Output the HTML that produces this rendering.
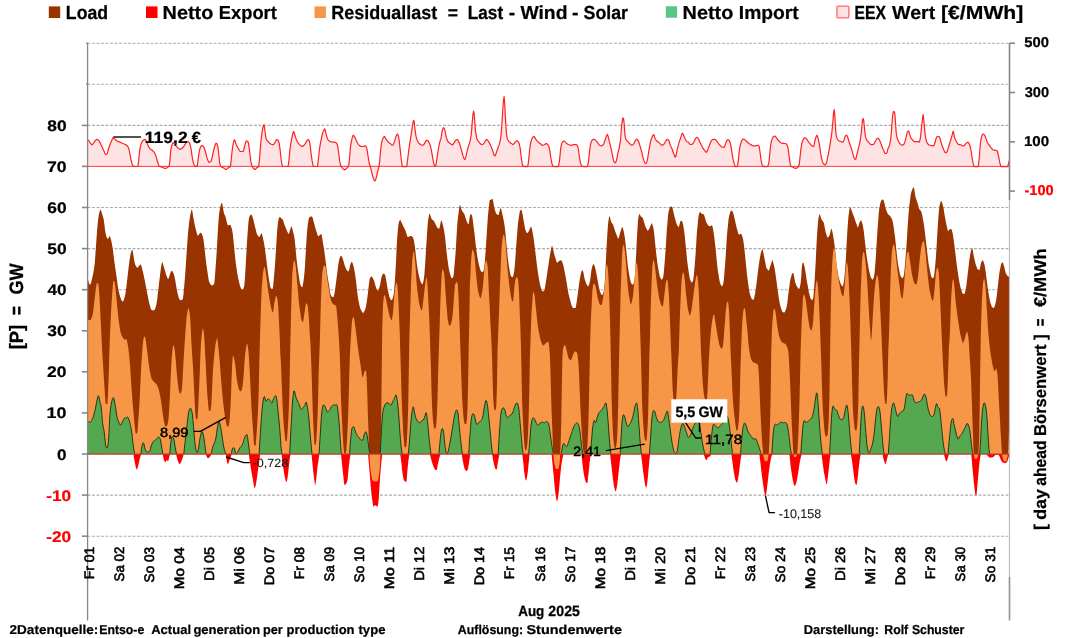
<!DOCTYPE html>
<html lang="de"><head><meta charset="utf-8"><title>Aug 2025 Load / Residuallast / EEX</title>
<style>html,body{margin:0;padding:0;background:#fff;overflow:hidden}svg{display:block}</style>
</head><body>
<svg width="1072" height="638" viewBox="0 0 1072 638" role="img" aria-label="Load, Residuallast, Netto Import/Export und EEX Wert, Aug 2025">
<rect width="1072" height="638" fill="#fff"/>
<g stroke="#aaaaaa" stroke-width="1.1" stroke-dasharray="2.8 1.7" fill="none" shape-rendering="auto">
<path d="M87.6 536.2H1009.5"/>
<path d="M87.6 495.1H1009.5"/>
<path d="M87.6 412.9H1009.5"/>
<path d="M87.6 371.8H1009.5"/>
<path d="M87.6 330.8H1009.5"/>
<path d="M87.6 289.7H1009.5"/>
<path d="M87.6 248.6H1009.5"/>
<path d="M87.6 207.5H1009.5"/>
<path d="M87.6 166.4H1009.5"/>
<path d="M87.6 125.4H1009.5"/>
<path d="M87.6 84.3H1009.5"/>
<path d="M87.6 43.2H1009.5"/>
</g>
<path d="M87.6 166.4L87.6 140.2L88.2 140.2L88.8 140.6L89.4 141.7L90 142.7L90.6 143.4L91.2 144.2L91.8 144.7L92.4 144.6L93 143.9L93.6 143L94.2 142.1L94.8 141.1L95.4 140.3L96 139.9L96.6 139.5L97.2 139.4L97.8 139.7L98.4 140.3L99 140.9L99.6 141.8L100.2 142.9L100.8 144.2L101.4 145.4L102 146.7L102.6 148L103.2 149.4L103.8 150.7L104.4 152.1L105 153.5L105.6 154.4L106.2 154.4L106.8 154.2L107.4 153.4L108 151.1L108.6 148.5L109.2 146.7L109.8 145L110.4 143.6L111 142.2L111.6 140.8L112.2 139.4L112.8 138.1L113.4 137.7L114 138.1L114.6 138.9L115.2 139.5L115.8 140L116.4 140.5L117 140.9L117.6 141.2L118.2 141.4L118.8 141.6L119.4 141.9L120 142.1L120.6 142.4L121.2 142.7L121.8 143L122.4 143.3L123 143.5L123.6 143.8L124.2 144L124.8 144.3L125.4 144.6L126 144.9L126.6 145.3L127.2 145.8L127.8 146.6L128.4 147.7L129 149.3L129.6 152.2L130.2 155.5L130.8 158.7L131.4 161.5L132 163.7L132.6 165.2L133.2 165.8L133.8 166.3L134.4 166.5L135 166.5L135.6 166.5L136.2 166.5L136.8 166.5L137.4 166.5L138 165.5L138.6 161.3L139.2 154.7L139.8 149.9L140.4 146.3L141 144.2L141.6 142.7L142.2 141.6L142.8 140.8L143.4 140.2L144 139.7L144.6 139.4L145.2 139.7L145.8 140.4L146.4 141.4L147 142.6L147.6 144.3L148.2 145.7L148.8 146.9L149.4 147.9L150 148.7L150.6 149.3L151.2 149.7L151.8 150.1L152.4 150.5L153 151L153.6 151.6L154.2 152.4L154.8 153.4L155.4 154.7L156 156.4L156.6 158.2L157.2 160.5L157.8 162.8L158.4 164.4L159 165.6L159.6 166.4L160.2 166.7L160.8 166.9L161.4 167L162 167.1L162.6 167.2L163.2 167.5L163.8 167.9L164.4 168.3L165 168.5L165.6 168.5L166.2 168.3L166.8 167.9L167.4 167.5L168 167.1L168.6 166.7L169.2 165.9L169.8 162.2L170.4 153.9L171 149.1L171.6 146.2L172.2 144.3L172.8 143L173.4 142.7L174 143.1L174.6 143.9L175.2 144.6L175.8 145.3L176.4 146.1L177 146.9L177.6 147.6L178.2 148.1L178.8 148.5L179.4 148.9L180 149.2L180.6 149.2L181.2 148.9L181.8 148.5L182.4 148L183 147.5L183.6 146.7L184.2 145.7L184.8 144.7L185.4 143.8L186 142.8L186.6 141.9L187.2 141.5L187.8 141.5L188.4 141.9L189 142.4L189.6 143.2L190.2 145.1L190.8 147.7L191.4 151.4L192 155.8L192.6 159.2L193.2 162L193.8 164.2L194.4 165.3L195 166L195.6 166.5L196.2 166.4L196.8 166L197.4 165.1L198 160.6L198.6 155.9L199.2 151.9L199.8 149.1L200.4 147.4L201 146.2L201.6 145.7L202.2 145.8L202.8 146.1L203.4 146.5L204 147.5L204.6 149.1L205.2 151L205.8 153L206.4 155.6L207 157.9L207.6 159.6L208.2 161.1L208.8 162.1L209.4 162.2L210 162L210.6 161.7L211.2 161L211.8 158.9L212.4 156.1L213 153.5L213.6 150.7L214.2 148L214.8 146L215.4 144.2L216 143.2L216.6 143.4L217.2 144.3L217.8 146.4L218.4 150.8L219 156.4L219.6 162.5L220.2 165L220.8 166.4L221.4 166.9L222 167.2L222.6 167.4L223.2 167.7L223.8 168.1L224.4 168.6L225 169.1L225.6 169.5L226.2 169.5L226.8 169.2L227.4 168.6L228 168.1L228.6 167.7L229.2 167.4L229.8 167.1L230.4 166.6L231 162L231.6 155.9L232.2 150.1L232.8 145.9L233.4 142.8L234 140.5L234.6 139.8L235.2 141.4L235.8 143.6L236.4 144.9L237 146.1L237.6 147.1L238.2 148.2L238.8 149.3L239.4 150.5L240 151.3L240.6 151.5L241.2 151.5L241.9 151.5L242.5 151.5L243.1 151.5L243.7 150L244.3 147.5L244.9 145.2L245.5 142.7L246.1 141.4L246.7 141.1L247.3 141L247.9 141.4L248.5 143.6L249.1 146.9L249.7 152L250.3 157L250.9 161.7L251.5 164.6L252.1 166.1L252.7 167.2L253.3 168.1L253.9 168.9L254.5 169.4L255.1 169.5L255.7 169L256.3 168.3L256.9 167.7L257.5 167.4L258.1 167.1L258.7 166.3L259.3 161.1L259.9 154.3L260.5 146.4L261.1 140.3L261.7 135.1L262.3 130.8L262.9 127.3L263.5 125L264.1 124.9L264.7 129L265.3 133.5L265.9 138.1L266.5 139.7L267.1 140.4L267.7 141L268.3 141.6L268.9 142.3L269.5 143L270.1 143.6L270.7 144L271.3 144.2L271.9 144.5L272.5 144.6L273.1 144.7L273.7 144.4L274.3 143.6L274.9 142.6L275.5 141.6L276.1 140.4L276.7 139.5L277.3 139.6L277.9 140.2L278.5 141.1L279.1 143L279.7 146.8L280.3 151.3L280.9 157.2L281.5 162L282.1 165.1L282.7 166.5L283.3 166.5L283.9 166.5L284.5 166.5L285.1 166.5L285.7 166.5L286.3 166.5L286.9 166.5L287.5 166.5L288.1 166.5L288.7 162.7L289.3 156.6L289.9 150.2L290.5 145.5L291.1 141.9L291.7 138.8L292.3 136L292.9 133.3L293.5 131.5L294.1 132.1L294.7 134.5L295.3 136.7L295.9 138.4L296.5 140L297.1 141.2L297.7 142.2L298.3 143.1L298.9 143.9L299.5 144.5L300.1 145.1L300.7 145.6L301.3 146.1L301.9 146.4L302.5 146.4L303.1 146.1L303.7 145.5L304.3 144.9L304.9 144.1L305.5 143.1L306.1 142L306.7 141.1L307.3 140.2L307.9 139.6L308.5 139.6L309.1 140.7L309.7 142.5L310.3 146.4L310.9 152L311.5 156.5L312.1 160.7L312.7 163.6L313.3 165.8L313.9 166.5L314.5 166.5L315.1 166.5L315.7 166.5L316.3 166.5L316.9 166.5L317.5 166.5L318.1 161.9L318.7 156.3L319.3 150.7L319.9 146.4L320.5 142.8L321.1 139.8L321.7 137L322.3 134.5L322.9 132.4L323.5 130.9L324.1 129.6L324.7 128.9L325.3 130.2L325.9 133.4L326.5 135.8L327.1 137.7L327.7 139.2L328.3 140.2L328.9 140.7L329.5 141.1L330.1 141.4L330.7 141.7L331.3 141.8L331.9 142L332.5 142.1L333.1 142.2L333.7 142.2L334.3 142.2L334.9 142.2L335.5 142.4L336.1 142.8L336.7 143.5L337.3 144.6L337.9 147.6L338.5 151.5L339.1 156.7L339.7 161L340.3 164L340.9 166L341.5 167.1L342.1 167.8L342.7 168.5L343.3 169.1L343.9 169.6L344.5 169.8L345.1 169.7L345.7 169.2L346.3 168.6L346.9 168.1L347.5 167.7L348.1 167L348.7 165.2L349.3 160.8L349.9 153.4L350.5 146.7L351.1 142.7L351.7 139.9L352.3 137.5L352.9 135.8L353.5 135.3L354.1 135.9L354.7 137L355.3 138.1L355.9 139.4L356.5 140.9L357.1 142.2L357.7 143.3L358.3 144.3L358.9 145L359.5 145.6L360.1 146L360.7 146.4L361.3 146.5L361.9 146.5L362.5 146.5L363.1 146.5L363.7 146.5L364.3 146.1L364.9 145.8L365.5 145.9L366.1 146.7L366.7 147.9L367.3 151.1L367.9 155.2L368.5 159.1L369.1 162.5L369.7 164.8L370.3 166.6L370.9 168.7L371.5 171.3L372.1 173.8L372.7 176.1L373.3 178.2L373.9 179.6L374.5 180.6L375.1 180.8L375.7 179.4L376.3 177.5L376.9 175.1L377.5 172.4L378.1 170L378.7 167.8L379.3 164.6L379.9 158.5L380.5 152L381.1 145.9L381.7 142.5L382.3 140.1L382.9 138.6L383.5 137.4L384.1 136.6L384.7 136.6L385.3 137.7L385.9 138.9L386.5 139.8L387.1 140.7L387.7 141.5L388.3 142.1L388.9 142.5L389.5 143L390.1 143.4L390.7 143.9L391.3 144.5L391.9 145L392.5 145.2L393.1 145L393.7 143.7L394.3 142L394.9 140.2L395.5 137.9L396.1 136.2L396.7 134.9L397.3 134L397.9 134.5L398.5 136.7L399.1 139.9L399.7 145.1L400.3 150.5L400.9 156.2L401.5 161L402.1 165.4L402.7 166.6L403.3 166.6L403.9 166.6L404.5 166.6L405.1 166.6L405.7 166.6L406.3 166.6L406.9 165.2L407.5 160.5L408.1 155.7L408.7 150.8L409.3 146.6L409.9 142.7L410.5 138.8L411.1 134.7L411.7 130.7L412.3 126.9L412.9 123.4L413.5 120.3L414.1 121L414.7 127L415.3 131.7L415.9 135.8L416.5 138.2L417.1 140L417.7 141.3L418.3 142.3L418.9 143.1L419.5 143.8L420.1 144.2L420.7 144.6L421.3 145L421.9 145.2L422.5 145.3L423.1 145L423.7 144.6L424.3 144L424.9 142.9L425.5 141.5L426.1 140.8L426.7 140.4L427.3 140.3L427.9 140.7L428.5 141.6L429.1 142.8L429.7 144L430.3 145.6L430.9 147.8L431.5 150.9L432.1 154.3L432.7 158.1L433.3 161.4L433.9 164.1L434.5 165.8L435.1 165.7L435.7 165.4L436.3 163.3L436.9 158.7L437.5 154.4L438.1 150.3L438.7 147L439.3 144.1L439.9 141.7L440.5 139.9L441.1 137.8L441.7 134.1L442.3 130.4L442.9 128.7L443.5 127.7L444.1 128.2L444.7 129.7L445.3 132.1L445.9 135.5L446.5 137.8L447.1 139.8L447.7 141.2L448.3 142L448.9 142.6L449.5 143L450.1 143.4L450.7 143.9L451.3 144.3L451.9 144.7L452.5 144.8L453.1 144.3L453.7 143.4L454.3 142.5L454.9 141.4L455.5 140.4L456.1 139.9L456.7 139.6L457.3 139.5L457.9 140.1L458.5 141.2L459.1 142.5L459.7 144.2L460.3 146.1L460.9 148.2L461.5 150.4L462.1 152.5L462.7 154.7L463.3 156.9L463.9 158.2L464.5 159.3L465.1 159.4L465.7 157.4L466.3 154.8L466.9 152.2L467.5 149.5L468.1 147.2L468.7 145.4L469.3 143.7L469.9 141.7L470.5 139.2L471.1 135.9L471.7 129.4L472.3 121.6L472.9 115L473.5 111.1L474.1 113.4L474.7 120.7L475.3 128.7L475.9 133.6L476.5 137.3L477.1 139.3L477.7 140.4L478.3 141.2L478.9 141.9L479.5 142.6L480.1 143.3L480.7 144L481.3 144.4L481.9 144.5L482.5 144.4L483.1 144.2L483.7 143.8L484.3 142.8L484.9 141.6L485.5 140.7L486.1 139.9L486.7 139.5L487.3 139.8L487.9 140.6L488.5 141.5L489.1 142.5L489.7 143.6L490.3 144.8L490.9 146.2L491.5 147.6L492.1 149.2L492.7 150.8L493.3 152.9L493.9 154.6L494.5 155.6L495.1 156L495.7 154.7L496.3 152.7L496.9 151L497.5 149.3L498.1 147.5L498.7 145.9L499.3 144.2L499.9 142.1L500.5 139L501.1 134.4L501.7 127.2L502.3 117.5L502.9 107.8L503.5 100.3L504.1 96.5L504.7 103.8L505.3 115.5L505.9 126.6L506.5 133.9L507.1 137.9L507.7 139.5L508.3 140.5L508.9 141.3L509.5 142L510.1 142.5L510.7 143L511.3 143.4L511.9 143.9L512.5 144.4L513.1 144.5L513.7 144.1L514.3 143.3L514.9 142.4L515.5 141.8L516.1 141.1L516.7 140.8L517.3 140.9L517.9 141.4L518.5 142.1L519.1 143.5L519.7 145.9L520.3 149.1L520.9 154.2L521.5 159L522.1 163.3L522.7 165.5L523.3 166.1L523.9 166.5L524.5 166.6L525.1 166.6L525.7 166.6L526.3 166.6L526.9 166.6L527.5 166.6L528.1 164.5L528.7 159.6L529.3 153.2L529.9 147.5L530.5 143.9L531.1 141.1L531.7 139.4L532.3 138.1L532.9 137.2L533.5 136.7L534.1 136.5L534.7 137.1L535.3 138.4L535.9 139.4L536.5 140.2L537.1 140.9L537.7 141.6L538.3 142.1L538.9 142.6L539.5 143L540.1 143.5L540.7 144L541.3 144.5L541.9 145L542.5 145.3L543.1 145.2L543.7 145L544.3 144.7L544.9 144.4L545.5 143.9L546.1 143.6L546.7 143.6L547.3 144.1L547.9 144.9L548.6 146L549.2 147.9L549.8 150.4L550.4 154.6L551 158.9L551.6 162.1L552.2 164.6L552.8 165.6L553.4 166.2L554 166.5L554.6 166.6L555.2 166.6L555.8 166.6L556.4 166.6L557 166.6L557.6 166.6L558.2 166.6L558.8 165.1L559.4 161.3L560 155.9L560.6 149.2L561.2 145.6L561.8 143.3L562.4 142.2L563 141.4L563.6 141L564.2 141.1L564.8 141.7L565.4 142.4L566 142.9L566.6 143.4L567.2 143.8L567.8 144.2L568.4 144.5L569 144.8L569.6 145L570.2 145.2L570.8 145.3L571.4 145.2L572 145.1L572.6 144.9L573.2 144.8L573.8 144.6L574.4 144.5L575 144.5L575.6 144.6L576.2 144.7L576.8 144.9L577.4 145.8L578 147.5L578.6 150.7L579.2 155.5L579.8 159.4L580.4 162.6L581 164.4L581.6 165.6L582.2 166.1L582.8 166.4L583.4 166.5L584 166.6L584.6 166.6L585.2 166.6L585.8 166.6L586.4 166.6L587 166.6L587.6 165.9L588.2 163.6L588.8 159.1L589.4 152.6L590 147.7L590.6 144.1L591.2 142.1L591.8 140.7L592.4 140L593 139.6L593.6 139.3L594.2 139.3L594.8 139.6L595.4 140.1L596 140.6L596.6 141.3L597.2 142.2L597.8 143L598.4 143.8L599 144.7L599.6 145.2L600.2 145.5L600.8 145.7L601.4 145.8L602 145.7L602.6 145.3L603.2 144.6L603.8 143.8L604.4 142.2L605 140.3L605.6 138.4L606.2 136.5L606.8 135.2L607.4 134.5L608 135.9L608.6 138.4L609.2 140.8L609.8 143.2L610.4 145.7L611 148.2L611.6 151L612.2 154.2L612.8 157L613.4 159.9L614 161.7L614.6 162.5L615.2 162.8L615.8 162.1L616.4 160.5L617 157.9L617.6 154.6L618.2 152L618.8 149.6L619.4 146.8L620 143.6L620.6 139L621.2 130.9L621.8 124.5L622.4 120L623 117.9L623.6 118.9L624.2 124.3L624.8 133.4L625.4 137.7L626 139.5L626.6 140.4L627.2 141L627.8 141.6L628.4 142.2L629 142.8L629.6 143.4L630.2 144L630.8 144.7L631.4 145.2L632 145.2L632.6 144.9L633.2 144.3L633.8 143.6L634.4 142.4L635 141.1L635.6 140.3L636.2 139.6L636.8 139.2L637.4 139.6L638 140.4L638.6 141.4L639.2 143.3L639.8 145.4L640.4 147.3L641 149.3L641.6 151.6L642.2 154.2L642.8 156.6L643.4 158.9L644 160.9L644.6 162.2L645.2 163.2L645.8 163.6L646.4 162.9L647 161.2L647.6 158.9L648.2 155L648.8 151.2L649.4 147.5L650 144.3L650.6 141.5L651.2 139.3L651.8 137.7L652.4 136.4L653 135.4L653.6 134.6L654.2 135.4L654.8 137.7L655.4 139L656 140L656.6 140.8L657.2 141.3L657.8 141.7L658.4 142.1L659 142.7L659.6 143.3L660.2 143.9L660.8 144.4L661.4 144.9L662 145.2L662.6 145.2L663.2 144.9L663.8 144.3L664.4 143.6L665 142.4L665.6 141.1L666.2 140.3L666.8 139.5L667.4 139.3L668 139.6L668.6 140.4L669.2 141.5L669.8 143.5L670.4 145.4L671 146.7L671.6 147.9L672.2 149.3L672.8 151L673.4 152.7L674 154.4L674.6 156.1L675.2 157.2L675.8 156.5L676.4 153.8L677 151L677.6 147.8L678.2 145.3L678.8 143.3L679.4 141.4L680 139.7L680.6 138L681.2 136.2L681.8 134.2L682.4 133.2L683 133.9L683.6 135.2L684.2 136.5L684.8 138L685.4 139.4L686 140.6L686.6 141.5L687.2 141.8L687.8 142L688.4 142.3L689 142.9L689.6 143.8L690.2 144.5L690.8 144.5L691.4 144.4L692 144.2L692.6 143.9L693.2 143.2L693.8 142.2L694.4 141.1L695 139.6L695.6 138.3L696.2 137.7L696.8 137.3L697.4 137.5L698 138.3L698.6 139.3L699.2 140.6L699.8 142L700.4 143.2L701 144.4L701.6 145.6L702.2 146.8L702.8 147.9L703.4 149L704 149.7L704.6 150.4L705.2 151.1L705.8 151.9L706.4 152.3L707 151.6L707.6 150L708.2 148.5L708.8 147L709.4 145.4L710 143.8L710.6 142.2L711.2 141.1L711.8 140.3L712.4 139.8L713 139.5L713.6 139.3L714.2 139.2L714.8 139.4L715.4 139.8L716 140.3L716.6 140.9L717.2 141.7L717.8 142.5L718.4 143.3L719 144.1L719.6 144.8L720.2 145.5L720.8 146.1L721.4 146.7L722 147L722.6 147.1L723.2 147.2L723.8 147.3L724.4 146.9L725 145.4L725.6 143.8L726.2 142L726.8 140.7L727.4 140.1L728 139.7L728.6 140L729.2 140.7L729.8 141.8L730.4 143.6L731 146.4L731.6 150.4L732.2 154.2L732.8 157.9L733.4 160.8L734 163.2L734.6 164.9L735.2 166.3L735.8 166.6L736.4 166.6L737 166.6L737.6 165.1L738.2 161.7L738.8 155.1L739.4 150.2L740 146.6L740.6 144.1L741.2 142.1L741.8 140.8L742.4 139.8L743 139.1L743.6 139L744.2 139.3L744.8 139.7L745.4 140.3L746 140.9L746.6 141.5L747.2 142L747.8 142.5L748.4 143L749 143.5L749.6 143.9L750.2 144.3L750.8 144.6L751.4 145L752 145.4L752.6 145.7L753.2 145.8L753.8 145.8L754.4 145.8L755 145.8L755.6 145.8L756.2 145.7L756.8 145.4L757.4 145.3L758 145.4L758.6 145.8L759.2 146.7L759.8 150.5L760.4 155L761 159.7L761.6 162.8L762.2 165L762.8 165.9L763.4 166.4L764 166.6L764.6 166.6L765.2 166.6L765.8 166.6L766.4 166.6L767 166.6L767.6 166.3L768.2 165.2L768.8 163.3L769.4 157.7L770 151.4L770.6 145.5L771.2 142.3L771.8 139.9L772.4 138.4L773 137.2L773.6 136.5L774.2 136.2L774.8 136L775.4 136.3L776 137.2L776.6 138L777.2 138.9L777.8 139.8L778.4 140.5L779 141.2L779.6 141.8L780.2 142.3L780.8 142.7L781.4 143L782 143.2L782.6 143.3L783.2 143.4L783.8 143.4L784.4 143.5L785 143.6L785.6 143.7L786.2 143.9L786.8 144.4L787.4 145.7L788 148L788.6 152.2L789.2 156.7L789.8 161L790.4 164.9L791 166.2L791.6 166.6L792.2 166.9L792.8 167.1L793.4 167.5L794 167.8L794.6 168.1L795.2 168.3L795.8 168.3L796.4 168.2L797 168L797.6 167.6L798.2 167.1L798.8 165.8L799.4 163.2L800 157.8L800.6 151.7L801.2 147L801.8 143.7L802.4 141.5L803 139.9L803.6 138.9L804.2 138L804.8 137.7L805.4 137.9L806 138.3L806.6 138.9L807.2 139.8L807.8 140.8L808.4 141.7L809 142.5L809.6 143.3L810.2 144L810.8 144.7L811.4 145.3L812 145.9L812.6 146.2L813.2 146.4L813.8 146.5L814.4 143.3L815 140.5L815.6 138.2L816.2 136.5L816.8 135.4L817.4 135.8L818 137.9L818.6 140.4L819.2 143.4L819.8 147.1L820.4 151.5L821 155.3L821.6 158.5L822.2 160.9L822.8 162.7L823.4 163.7L824 164.3L824.6 164.7L825.2 164.8L825.8 164.2L826.4 163.1L827 160.9L827.6 157.5L828.2 154.6L828.8 151.6L829.4 148.4L830 144.9L830.6 141.2L831.2 137.3L831.8 132.8L832.4 127.2L833 120.1L833.6 112.4L834.2 109.5L834.8 115.4L835.4 126.4L836 134L836.6 137.1L837.2 138.8L837.8 139.8L838.4 140.4L839 140.8L839.6 141.1L840.2 141.3L840.8 141.5L841.4 141.8L842 142.1L842.6 142.3L843.2 141.7L843.8 140.4L844.4 138.9L845 136.7L845.6 135.7L846.2 135.3L846.8 135.3L847.4 136.5L848 138.1L848.6 140.1L849.2 142.3L849.8 144.1L850.4 145.7L851 147.4L851.6 149.3L852.2 151.4L852.8 153.4L853.4 155.7L854 157.5L854.6 158.7L855.2 159.5L855.9 158.8L856.5 156.2L857.1 153.8L857.7 151.3L858.3 148.7L858.9 146.4L859.5 143.9L860.1 140.9L860.7 137.3L861.3 132.4L861.9 126.1L862.5 120.3L863.1 118.3L863.7 120.3L864.3 126.1L864.9 132.7L865.5 136.7L866.1 138.7L866.7 139.9L867.3 140.8L867.9 141.5L868.5 142.1L869.1 142.6L869.7 143.3L870.3 144.1L870.9 144.6L871.5 144.8L872.1 144.7L872.7 144.6L873.3 144.5L873.9 144L874.5 142.9L875.1 141.8L875.7 140.8L876.3 139.6L876.9 138.9L877.5 138.4L878.1 138.3L878.7 138.8L879.3 139.8L879.9 141L880.5 142.5L881.1 144.1L881.7 145.7L882.3 147.3L882.9 148.8L883.5 150.1L884.1 151.5L884.7 152.9L885.3 153.5L885.9 153.5L886.5 153.4L887.1 152.5L887.7 149.4L888.3 148L888.9 146.9L889.5 145.2L890.1 142.7L890.7 138.8L891.3 133L891.9 125L892.5 117L893.1 112.6L893.7 111.4L894.3 111.7L894.9 114.2L895.5 122.6L896.1 131.6L896.7 135.9L897.3 138.5L897.9 140.1L898.5 141.3L899.1 142.4L899.7 143.3L900.3 144L900.9 144.5L901.5 145L902.1 145.2L902.7 145.2L903.3 144.8L903.9 144.3L904.5 143.2L905.1 141.2L905.7 138.9L906.3 136.1L906.9 133.6L907.5 131.6L908.1 131.1L908.7 131L909.3 132.8L909.9 134.9L910.5 136.8L911.1 138.1L911.7 139L912.3 139.7L912.9 140.4L913.5 141.1L914.1 141.5L914.7 141.6L915.3 141.7L915.9 141.8L916.5 141.7L917.1 141.6L917.7 141.5L918.3 141.6L918.9 141.9L919.5 141.9L920.1 139.5L920.7 135.6L921.3 130L921.9 123.8L922.5 118.3L923.1 114.7L923.7 119L924.3 125.9L924.9 132.6L925.5 136.9L926.1 140L926.7 141.8L927.3 143.1L927.9 144L928.5 144.5L929.1 144.9L929.7 145.2L930.3 145.4L930.9 145.5L931.5 145.7L932.1 145.8L932.7 145.9L933.3 146L933.9 145.6L934.5 144.1L935.1 142.3L935.7 139.9L936.3 138L936.9 136.9L937.5 136.5L938.1 136.5L938.7 136.5L939.3 137L939.9 138.1L940.5 140L941.1 142.4L941.7 144.3L942.3 146.1L942.9 147.7L943.5 149.2L944.1 150.5L944.7 151.9L945.3 152.7L945.9 152.7L946.5 152.4L947.1 151.7L947.7 149.9L948.3 148.1L948.9 146L949.5 144L950.1 142L950.7 140L951.3 138L951.9 135.9L952.5 133.6L953.1 131.1L953.7 132.9L954.3 136.7L954.9 138.4L955.5 139.7L956.1 141.1L956.7 142.3L957.3 143.2L957.9 144L958.5 144.5L959.1 144.6L959.7 144.7L960.3 144.7L960.9 144.9L961.5 145.4L962.1 145.9L962.7 146L963.3 145.9L963.9 145.6L964.5 145.3L965.1 144.7L965.7 143.9L966.3 143.2L966.9 142.7L967.5 142.3L968.1 142.4L968.7 143L969.3 144L969.9 145.5L970.5 147.6L971.1 151L971.7 155L972.3 158.8L972.9 162.4L973.5 165.2L974.1 166.3L974.7 166.6L975.3 166.6L975.9 166.6L976.5 166.6L977.1 166.6L977.7 166.6L978.3 166.1L978.9 161.8L979.5 154.7L980.1 147L980.7 141.1L981.3 137.7L981.9 135.6L982.5 134.6L983.1 134L983.7 134.1L984.3 134.8L984.9 135.8L985.5 137.4L986.1 139L986.7 140.6L987.3 142.2L987.9 143.3L988.5 144.1L989.1 144.9L989.7 145.8L990.3 146.7L990.9 147.5L991.5 148.3L992.1 149L992.7 149.5L993.3 149.9L993.9 150L994.5 150.1L995.1 150.3L995.7 150.4L996.3 150.5L996.9 150.7L997.5 151.6L998.1 154L998.7 156.8L999.3 160L999.9 163.2L1000.5 165.1L1001.1 166.4L1001.7 166.6L1002.3 166.6L1002.9 166.6L1003.5 166.6L1004.1 166.6L1004.7 166.6L1005.3 166.6L1005.9 166.6L1006.5 166.6L1007.1 166.6L1007.7 166.6L1008.3 164.4L1008.9 162L1009.5 160.2L1009.5 166.4Z" fill="#fde3e3"/>
<path d="M87.6 166.4H1009.5" stroke="#ff4040" stroke-width="1" fill="none"/>
<path d="M87.6 140.2L88.2 140.2L88.8 140.6L89.4 141.7L90.0 142.7L90.6 143.4L91.2 144.2L91.8 144.7L92.4 144.6L93.0 143.9L93.6 143.0L94.2 142.1L94.8 141.1L95.4 140.3L96.0 139.9L96.6 139.5L97.2 139.4L97.8 139.7L98.4 140.3L99.0 140.9L99.6 141.8L100.2 142.9L100.8 144.2L101.4 145.4L102.0 146.7L102.6 148.0L103.2 149.4L103.8 150.7L104.4 152.1L105.0 153.5L105.6 154.4L106.2 154.4L106.8 154.2L107.4 153.4L108.0 151.1L108.6 148.5L109.2 146.7L109.8 145.0L110.4 143.6L111.0 142.2L111.6 140.8L112.2 139.4L112.8 138.1L113.4 137.7L114.0 138.1L114.6 138.9L115.2 139.5L115.8 140.0L116.4 140.5L117.0 140.9L117.6 141.2L118.2 141.4L118.8 141.6L119.4 141.9L120.0 142.1L120.6 142.4L121.2 142.7L121.8 143.0L122.4 143.3L123.0 143.5L123.6 143.8L124.2 144.0L124.8 144.3L125.4 144.6L126.0 144.9L126.6 145.3L127.2 145.8L127.8 146.6L128.4 147.7L129.0 149.3L129.6 152.2L130.2 155.5L130.8 158.7L131.4 161.5L132.0 163.7L132.6 165.2L133.2 165.8L133.8 166.3L134.4 166.5L135.0 166.5L135.6 166.5L136.2 166.5L136.8 166.5L137.4 166.5L138.0 165.5L138.6 161.3L139.2 154.7L139.8 149.9L140.4 146.3L141.0 144.2L141.6 142.7L142.2 141.6L142.8 140.8L143.4 140.2L144.0 139.7L144.6 139.4L145.2 139.7L145.8 140.4L146.4 141.4L147.0 142.6L147.6 144.3L148.2 145.7L148.8 146.9L149.4 147.9L150.0 148.7L150.6 149.3L151.2 149.7L151.8 150.1L152.4 150.5L153.0 151.0L153.6 151.6L154.2 152.4L154.8 153.4L155.4 154.7L156.0 156.4L156.6 158.2L157.2 160.5L157.8 162.8L158.4 164.4L159.0 165.6L159.6 166.4L160.2 166.7L160.8 166.9L161.4 167.0L162.0 167.1L162.6 167.2L163.2 167.5L163.8 167.9L164.4 168.3L165.0 168.5L165.6 168.5L166.2 168.3L166.8 167.9L167.4 167.5L168.0 167.1L168.6 166.7L169.2 165.9L169.8 162.2L170.4 153.9L171.0 149.1L171.6 146.2L172.2 144.3L172.8 143.0L173.4 142.7L174.0 143.1L174.6 143.9L175.2 144.6L175.8 145.3L176.4 146.1L177.0 146.9L177.6 147.6L178.2 148.1L178.8 148.5L179.4 148.9L180.0 149.2L180.6 149.2L181.2 148.9L181.8 148.5L182.4 148.0L183.0 147.5L183.6 146.7L184.2 145.7L184.8 144.7L185.4 143.8L186.0 142.8L186.6 141.9L187.2 141.5L187.8 141.5L188.4 141.9L189.0 142.4L189.6 143.2L190.2 145.1L190.8 147.7L191.4 151.4L192.0 155.8L192.6 159.2L193.2 162.0L193.8 164.2L194.4 165.3L195.0 166.0L195.6 166.5L196.2 166.4L196.8 166.0L197.4 165.1L198.0 160.6L198.6 155.9L199.2 151.9L199.8 149.1L200.4 147.4L201.0 146.2L201.6 145.7L202.2 145.8L202.8 146.1L203.4 146.5L204.0 147.5L204.6 149.1L205.2 151.0L205.8 153.0L206.4 155.6L207.0 157.9L207.6 159.6L208.2 161.1L208.8 162.1L209.4 162.2L210.0 162.0L210.6 161.7L211.2 161.0L211.8 158.9L212.4 156.1L213.0 153.5L213.6 150.7L214.2 148.0L214.8 146.0L215.4 144.2L216.0 143.2L216.6 143.4L217.2 144.3L217.8 146.4L218.4 150.8L219.0 156.4L219.6 162.5L220.2 165.0L220.8 166.4L221.4 166.9L222.0 167.2L222.6 167.4L223.2 167.7L223.8 168.1L224.4 168.6L225.0 169.1L225.6 169.5L226.2 169.5L226.8 169.2L227.4 168.6L228.0 168.1L228.6 167.7L229.2 167.4L229.8 167.1L230.4 166.6L231.0 162.0L231.6 155.9L232.2 150.1L232.8 145.9L233.4 142.8L234.0 140.5L234.6 139.8L235.2 141.4L235.8 143.6L236.4 144.9L237.0 146.1L237.6 147.1L238.2 148.2L238.8 149.3L239.4 150.5L240.0 151.3L240.6 151.5L241.2 151.5L241.9 151.5L242.5 151.5L243.1 151.5L243.7 150.0L244.3 147.5L244.9 145.2L245.5 142.7L246.1 141.4L246.7 141.1L247.3 141.0L247.9 141.4L248.5 143.6L249.1 146.9L249.7 152.0L250.3 157.0L250.9 161.7L251.5 164.6L252.1 166.1L252.7 167.2L253.3 168.1L253.9 168.9L254.5 169.4L255.1 169.5L255.7 169.0L256.3 168.3L256.9 167.7L257.5 167.4L258.1 167.1L258.7 166.3L259.3 161.1L259.9 154.3L260.5 146.4L261.1 140.3L261.7 135.1L262.3 130.8L262.9 127.3L263.5 125.0L264.1 124.9L264.7 129.0L265.3 133.5L265.9 138.1L266.5 139.7L267.1 140.4L267.7 141.0L268.3 141.6L268.9 142.3L269.5 143.0L270.1 143.6L270.7 144.0L271.3 144.2L271.9 144.5L272.5 144.6L273.1 144.7L273.7 144.4L274.3 143.6L274.9 142.6L275.5 141.6L276.1 140.4L276.7 139.5L277.3 139.6L277.9 140.2L278.5 141.1L279.1 143.0L279.7 146.8L280.3 151.3L280.9 157.2L281.5 162.0L282.1 165.1L282.7 166.5L283.3 166.5L283.9 166.5L284.5 166.5L285.1 166.5L285.7 166.5L286.3 166.5L286.9 166.5L287.5 166.5L288.1 166.5L288.7 162.7L289.3 156.6L289.9 150.2L290.5 145.5L291.1 141.9L291.7 138.8L292.3 136.0L292.9 133.3L293.5 131.5L294.1 132.1L294.7 134.5L295.3 136.7L295.9 138.4L296.5 140.0L297.1 141.2L297.7 142.2L298.3 143.1L298.9 143.9L299.5 144.5L300.1 145.1L300.7 145.6L301.3 146.1L301.9 146.4L302.5 146.4L303.1 146.1L303.7 145.5L304.3 144.9L304.9 144.1L305.5 143.1L306.1 142.0L306.7 141.1L307.3 140.2L307.9 139.6L308.5 139.6L309.1 140.7L309.7 142.5L310.3 146.4L310.9 152.0L311.5 156.5L312.1 160.7L312.7 163.6L313.3 165.8L313.9 166.5L314.5 166.5L315.1 166.5L315.7 166.5L316.3 166.5L316.9 166.5L317.5 166.5L318.1 161.9L318.7 156.3L319.3 150.7L319.9 146.4L320.5 142.8L321.1 139.8L321.7 137.0L322.3 134.5L322.9 132.4L323.5 130.9L324.1 129.6L324.7 128.9L325.3 130.2L325.9 133.4L326.5 135.8L327.1 137.7L327.7 139.2L328.3 140.2L328.9 140.7L329.5 141.1L330.1 141.4L330.7 141.7L331.3 141.8L331.9 142.0L332.5 142.1L333.1 142.2L333.7 142.2L334.3 142.2L334.9 142.2L335.5 142.4L336.1 142.8L336.7 143.5L337.3 144.6L337.9 147.6L338.5 151.5L339.1 156.7L339.7 161.0L340.3 164.0L340.9 166.0L341.5 167.1L342.1 167.8L342.7 168.5L343.3 169.1L343.9 169.6L344.5 169.8L345.1 169.7L345.7 169.2L346.3 168.6L346.9 168.1L347.5 167.7L348.1 167.0L348.7 165.2L349.3 160.8L349.9 153.4L350.5 146.7L351.1 142.7L351.7 139.9L352.3 137.5L352.9 135.8L353.5 135.3L354.1 135.9L354.7 137.0L355.3 138.1L355.9 139.4L356.5 140.9L357.1 142.2L357.7 143.3L358.3 144.3L358.9 145.0L359.5 145.6L360.1 146.0L360.7 146.4L361.3 146.5L361.9 146.5L362.5 146.5L363.1 146.5L363.7 146.5L364.3 146.1L364.9 145.8L365.5 145.9L366.1 146.7L366.7 147.9L367.3 151.1L367.9 155.2L368.5 159.1L369.1 162.5L369.7 164.8L370.3 166.6L370.9 168.7L371.5 171.3L372.1 173.8L372.7 176.1L373.3 178.2L373.9 179.6L374.5 180.6L375.1 180.8L375.7 179.4L376.3 177.5L376.9 175.1L377.5 172.4L378.1 170.0L378.7 167.8L379.3 164.6L379.9 158.5L380.5 152.0L381.1 145.9L381.7 142.5L382.3 140.1L382.9 138.6L383.5 137.4L384.1 136.6L384.7 136.6L385.3 137.7L385.9 138.9L386.5 139.8L387.1 140.7L387.7 141.5L388.3 142.1L388.9 142.5L389.5 143.0L390.1 143.4L390.7 143.9L391.3 144.5L391.9 145.0L392.5 145.2L393.1 145.0L393.7 143.7L394.3 142.0L394.9 140.2L395.5 137.9L396.1 136.2L396.7 134.9L397.3 134.0L397.9 134.5L398.5 136.7L399.1 139.9L399.7 145.1L400.3 150.5L400.9 156.2L401.5 161.0L402.1 165.4L402.7 166.6L403.3 166.6L403.9 166.6L404.5 166.6L405.1 166.6L405.7 166.6L406.3 166.6L406.9 165.2L407.5 160.5L408.1 155.7L408.7 150.8L409.3 146.6L409.9 142.7L410.5 138.8L411.1 134.7L411.7 130.7L412.3 126.9L412.9 123.4L413.5 120.3L414.1 121.0L414.7 127.0L415.3 131.7L415.9 135.8L416.5 138.2L417.1 140.0L417.7 141.3L418.3 142.3L418.9 143.1L419.5 143.8L420.1 144.2L420.7 144.6L421.3 145.0L421.9 145.2L422.5 145.3L423.1 145.0L423.7 144.6L424.3 144.0L424.9 142.9L425.5 141.5L426.1 140.8L426.7 140.4L427.3 140.3L427.9 140.7L428.5 141.6L429.1 142.8L429.7 144.0L430.3 145.6L430.9 147.8L431.5 150.9L432.1 154.3L432.7 158.1L433.3 161.4L433.9 164.1L434.5 165.8L435.1 165.7L435.7 165.4L436.3 163.3L436.9 158.7L437.5 154.4L438.1 150.3L438.7 147.0L439.3 144.1L439.9 141.7L440.5 139.9L441.1 137.8L441.7 134.1L442.3 130.4L442.9 128.7L443.5 127.7L444.1 128.2L444.7 129.7L445.3 132.1L445.9 135.5L446.5 137.8L447.1 139.8L447.7 141.2L448.3 142.0L448.9 142.6L449.5 143.0L450.1 143.4L450.7 143.9L451.3 144.3L451.9 144.7L452.5 144.8L453.1 144.3L453.7 143.4L454.3 142.5L454.9 141.4L455.5 140.4L456.1 139.9L456.7 139.6L457.3 139.5L457.9 140.1L458.5 141.2L459.1 142.5L459.7 144.2L460.3 146.1L460.9 148.2L461.5 150.4L462.1 152.5L462.7 154.7L463.3 156.9L463.9 158.2L464.5 159.3L465.1 159.4L465.7 157.4L466.3 154.8L466.9 152.2L467.5 149.5L468.1 147.2L468.7 145.4L469.3 143.7L469.9 141.7L470.5 139.2L471.1 135.9L471.7 129.4L472.3 121.6L472.9 115.0L473.5 111.1L474.1 113.4L474.7 120.7L475.3 128.7L475.9 133.6L476.5 137.3L477.1 139.3L477.7 140.4L478.3 141.2L478.9 141.9L479.5 142.6L480.1 143.3L480.7 144.0L481.3 144.4L481.9 144.5L482.5 144.4L483.1 144.2L483.7 143.8L484.3 142.8L484.9 141.6L485.5 140.7L486.1 139.9L486.7 139.5L487.3 139.8L487.9 140.6L488.5 141.5L489.1 142.5L489.7 143.6L490.3 144.8L490.9 146.2L491.5 147.6L492.1 149.2L492.7 150.8L493.3 152.9L493.9 154.6L494.5 155.6L495.1 156.0L495.7 154.7L496.3 152.7L496.9 151.0L497.5 149.3L498.1 147.5L498.7 145.9L499.3 144.2L499.9 142.1L500.5 139.0L501.1 134.4L501.7 127.2L502.3 117.5L502.9 107.8L503.5 100.3L504.1 96.5L504.7 103.8L505.3 115.5L505.9 126.6L506.5 133.9L507.1 137.9L507.7 139.5L508.3 140.5L508.9 141.3L509.5 142.0L510.1 142.5L510.7 143.0L511.3 143.4L511.9 143.9L512.5 144.4L513.1 144.5L513.7 144.1L514.3 143.3L514.9 142.4L515.5 141.8L516.1 141.1L516.7 140.8L517.3 140.9L517.9 141.4L518.5 142.1L519.1 143.5L519.7 145.9L520.3 149.1L520.9 154.2L521.5 159.0L522.1 163.3L522.7 165.5L523.3 166.1L523.9 166.5L524.5 166.6L525.1 166.6L525.7 166.6L526.3 166.6L526.9 166.6L527.5 166.6L528.1 164.5L528.7 159.6L529.3 153.2L529.9 147.5L530.5 143.9L531.1 141.1L531.7 139.4L532.3 138.1L532.9 137.2L533.5 136.7L534.1 136.5L534.7 137.1L535.3 138.4L535.9 139.4L536.5 140.2L537.1 140.9L537.7 141.6L538.3 142.1L538.9 142.6L539.5 143.0L540.1 143.5L540.7 144.0L541.3 144.5L541.9 145.0L542.5 145.3L543.1 145.2L543.7 145.0L544.3 144.7L544.9 144.4L545.5 143.9L546.1 143.6L546.7 143.6L547.3 144.1L547.9 144.9L548.6 146.0L549.2 147.9L549.8 150.4L550.4 154.6L551.0 158.9L551.6 162.1L552.2 164.6L552.8 165.6L553.4 166.2L554.0 166.5L554.6 166.6L555.2 166.6L555.8 166.6L556.4 166.6L557.0 166.6L557.6 166.6L558.2 166.6L558.8 165.1L559.4 161.3L560.0 155.9L560.6 149.2L561.2 145.6L561.8 143.3L562.4 142.2L563.0 141.4L563.6 141.0L564.2 141.1L564.8 141.7L565.4 142.4L566.0 142.9L566.6 143.4L567.2 143.8L567.8 144.2L568.4 144.5L569.0 144.8L569.6 145.0L570.2 145.2L570.8 145.3L571.4 145.2L572.0 145.1L572.6 144.9L573.2 144.8L573.8 144.6L574.4 144.5L575.0 144.5L575.6 144.6L576.2 144.7L576.8 144.9L577.4 145.8L578.0 147.5L578.6 150.7L579.2 155.5L579.8 159.4L580.4 162.6L581.0 164.4L581.6 165.6L582.2 166.1L582.8 166.4L583.4 166.5L584.0 166.6L584.6 166.6L585.2 166.6L585.8 166.6L586.4 166.6L587.0 166.6L587.6 165.9L588.2 163.6L588.8 159.1L589.4 152.6L590.0 147.7L590.6 144.1L591.2 142.1L591.8 140.7L592.4 140.0L593.0 139.6L593.6 139.3L594.2 139.3L594.8 139.6L595.4 140.1L596.0 140.6L596.6 141.3L597.2 142.2L597.8 143.0L598.4 143.8L599.0 144.7L599.6 145.2L600.2 145.5L600.8 145.7L601.4 145.8L602.0 145.7L602.6 145.3L603.2 144.6L603.8 143.8L604.4 142.2L605.0 140.3L605.6 138.4L606.2 136.5L606.8 135.2L607.4 134.5L608.0 135.9L608.6 138.4L609.2 140.8L609.8 143.2L610.4 145.7L611.0 148.2L611.6 151.0L612.2 154.2L612.8 157.0L613.4 159.9L614.0 161.7L614.6 162.5L615.2 162.8L615.8 162.1L616.4 160.5L617.0 157.9L617.6 154.6L618.2 152.0L618.8 149.6L619.4 146.8L620.0 143.6L620.6 139.0L621.2 130.9L621.8 124.5L622.4 120.0L623.0 117.9L623.6 118.9L624.2 124.3L624.8 133.4L625.4 137.7L626.0 139.5L626.6 140.4L627.2 141.0L627.8 141.6L628.4 142.2L629.0 142.8L629.6 143.4L630.2 144.0L630.8 144.7L631.4 145.2L632.0 145.2L632.6 144.9L633.2 144.3L633.8 143.6L634.4 142.4L635.0 141.1L635.6 140.3L636.2 139.6L636.8 139.2L637.4 139.6L638.0 140.4L638.6 141.4L639.2 143.3L639.8 145.4L640.4 147.3L641.0 149.3L641.6 151.6L642.2 154.2L642.8 156.6L643.4 158.9L644.0 160.9L644.6 162.2L645.2 163.2L645.8 163.6L646.4 162.9L647.0 161.2L647.6 158.9L648.2 155.0L648.8 151.2L649.4 147.5L650.0 144.3L650.6 141.5L651.2 139.3L651.8 137.7L652.4 136.4L653.0 135.4L653.6 134.6L654.2 135.4L654.8 137.7L655.4 139.0L656.0 140.0L656.6 140.8L657.2 141.3L657.8 141.7L658.4 142.1L659.0 142.7L659.6 143.3L660.2 143.9L660.8 144.4L661.4 144.9L662.0 145.2L662.6 145.2L663.2 144.9L663.8 144.3L664.4 143.6L665.0 142.4L665.6 141.1L666.2 140.3L666.8 139.5L667.4 139.3L668.0 139.6L668.6 140.4L669.2 141.5L669.8 143.5L670.4 145.4L671.0 146.7L671.6 147.9L672.2 149.3L672.8 151.0L673.4 152.7L674.0 154.4L674.6 156.1L675.2 157.2L675.8 156.5L676.4 153.8L677.0 151.0L677.6 147.8L678.2 145.3L678.8 143.3L679.4 141.4L680.0 139.7L680.6 138.0L681.2 136.2L681.8 134.2L682.4 133.2L683.0 133.9L683.6 135.2L684.2 136.5L684.8 138.0L685.4 139.4L686.0 140.6L686.6 141.5L687.2 141.8L687.8 142.0L688.4 142.3L689.0 142.9L689.6 143.8L690.2 144.5L690.8 144.5L691.4 144.4L692.0 144.2L692.6 143.9L693.2 143.2L693.8 142.2L694.4 141.1L695.0 139.6L695.6 138.3L696.2 137.7L696.8 137.3L697.4 137.5L698.0 138.3L698.6 139.3L699.2 140.6L699.8 142.0L700.4 143.2L701.0 144.4L701.6 145.6L702.2 146.8L702.8 147.9L703.4 149.0L704.0 149.7L704.6 150.4L705.2 151.1L705.8 151.9L706.4 152.3L707.0 151.6L707.6 150.0L708.2 148.5L708.8 147.0L709.4 145.4L710.0 143.8L710.6 142.2L711.2 141.1L711.8 140.3L712.4 139.8L713.0 139.5L713.6 139.3L714.2 139.2L714.8 139.4L715.4 139.8L716.0 140.3L716.6 140.9L717.2 141.7L717.8 142.5L718.4 143.3L719.0 144.1L719.6 144.8L720.2 145.5L720.8 146.1L721.4 146.7L722.0 147.0L722.6 147.1L723.2 147.2L723.8 147.3L724.4 146.9L725.0 145.4L725.6 143.8L726.2 142.0L726.8 140.7L727.4 140.1L728.0 139.7L728.6 140.0L729.2 140.7L729.8 141.8L730.4 143.6L731.0 146.4L731.6 150.4L732.2 154.2L732.8 157.9L733.4 160.8L734.0 163.2L734.6 164.9L735.2 166.3L735.8 166.6L736.4 166.6L737.0 166.6L737.6 165.1L738.2 161.7L738.8 155.1L739.4 150.2L740.0 146.6L740.6 144.1L741.2 142.1L741.8 140.8L742.4 139.8L743.0 139.1L743.6 139.0L744.2 139.3L744.8 139.7L745.4 140.3L746.0 140.9L746.6 141.5L747.2 142.0L747.8 142.5L748.4 143.0L749.0 143.5L749.6 143.9L750.2 144.3L750.8 144.6L751.4 145.0L752.0 145.4L752.6 145.7L753.2 145.8L753.8 145.8L754.4 145.8L755.0 145.8L755.6 145.8L756.2 145.7L756.8 145.4L757.4 145.3L758.0 145.4L758.6 145.8L759.2 146.7L759.8 150.5L760.4 155.0L761.0 159.7L761.6 162.8L762.2 165.0L762.8 165.9L763.4 166.4L764.0 166.6L764.6 166.6L765.2 166.6L765.8 166.6L766.4 166.6L767.0 166.6L767.6 166.3L768.2 165.2L768.8 163.3L769.4 157.7L770.0 151.4L770.6 145.5L771.2 142.3L771.8 139.9L772.4 138.4L773.0 137.2L773.6 136.5L774.2 136.2L774.8 136.0L775.4 136.3L776.0 137.2L776.6 138.0L777.2 138.9L777.8 139.8L778.4 140.5L779.0 141.2L779.6 141.8L780.2 142.3L780.8 142.7L781.4 143.0L782.0 143.2L782.6 143.3L783.2 143.4L783.8 143.4L784.4 143.5L785.0 143.6L785.6 143.7L786.2 143.9L786.8 144.4L787.4 145.7L788.0 148.0L788.6 152.2L789.2 156.7L789.8 161.0L790.4 164.9L791.0 166.2L791.6 166.6L792.2 166.9L792.8 167.1L793.4 167.5L794.0 167.8L794.6 168.1L795.2 168.3L795.8 168.3L796.4 168.2L797.0 168.0L797.6 167.6L798.2 167.1L798.8 165.8L799.4 163.2L800.0 157.8L800.6 151.7L801.2 147.0L801.8 143.7L802.4 141.5L803.0 139.9L803.6 138.9L804.2 138.0L804.8 137.7L805.4 137.9L806.0 138.3L806.6 138.9L807.2 139.8L807.8 140.8L808.4 141.7L809.0 142.5L809.6 143.3L810.2 144.0L810.8 144.7L811.4 145.3L812.0 145.9L812.6 146.2L813.2 146.4L813.8 146.5L814.4 143.3L815.0 140.5L815.6 138.2L816.2 136.5L816.8 135.4L817.4 135.8L818.0 137.9L818.6 140.4L819.2 143.4L819.8 147.1L820.4 151.5L821.0 155.3L821.6 158.5L822.2 160.9L822.8 162.7L823.4 163.7L824.0 164.3L824.6 164.7L825.2 164.8L825.8 164.2L826.4 163.1L827.0 160.9L827.6 157.5L828.2 154.6L828.8 151.6L829.4 148.4L830.0 144.9L830.6 141.2L831.2 137.3L831.8 132.8L832.4 127.2L833.0 120.1L833.6 112.4L834.2 109.5L834.8 115.4L835.4 126.4L836.0 134.0L836.6 137.1L837.2 138.8L837.8 139.8L838.4 140.4L839.0 140.8L839.6 141.1L840.2 141.3L840.8 141.5L841.4 141.8L842.0 142.1L842.6 142.3L843.2 141.7L843.8 140.4L844.4 138.9L845.0 136.7L845.6 135.7L846.2 135.3L846.8 135.3L847.4 136.5L848.0 138.1L848.6 140.1L849.2 142.3L849.8 144.1L850.4 145.7L851.0 147.4L851.6 149.3L852.2 151.4L852.8 153.4L853.4 155.7L854.0 157.5L854.6 158.7L855.2 159.5L855.9 158.8L856.5 156.2L857.1 153.8L857.7 151.3L858.3 148.7L858.9 146.4L859.5 143.9L860.1 140.9L860.7 137.3L861.3 132.4L861.9 126.1L862.5 120.3L863.1 118.3L863.7 120.3L864.3 126.1L864.9 132.7L865.5 136.7L866.1 138.7L866.7 139.9L867.3 140.8L867.9 141.5L868.5 142.1L869.1 142.6L869.7 143.3L870.3 144.1L870.9 144.6L871.5 144.8L872.1 144.7L872.7 144.6L873.3 144.5L873.9 144.0L874.5 142.9L875.1 141.8L875.7 140.8L876.3 139.6L876.9 138.9L877.5 138.4L878.1 138.3L878.7 138.8L879.3 139.8L879.9 141.0L880.5 142.5L881.1 144.1L881.7 145.7L882.3 147.3L882.9 148.8L883.5 150.1L884.1 151.5L884.7 152.9L885.3 153.5L885.9 153.5L886.5 153.4L887.1 152.5L887.7 149.4L888.3 148.0L888.9 146.9L889.5 145.2L890.1 142.7L890.7 138.8L891.3 133.0L891.9 125.0L892.5 117.0L893.1 112.6L893.7 111.4L894.3 111.7L894.9 114.2L895.5 122.6L896.1 131.6L896.7 135.9L897.3 138.5L897.9 140.1L898.5 141.3L899.1 142.4L899.7 143.3L900.3 144.0L900.9 144.5L901.5 145.0L902.1 145.2L902.7 145.2L903.3 144.8L903.9 144.3L904.5 143.2L905.1 141.2L905.7 138.9L906.3 136.1L906.9 133.6L907.5 131.6L908.1 131.1L908.7 131.0L909.3 132.8L909.9 134.9L910.5 136.8L911.1 138.1L911.7 139.0L912.3 139.7L912.9 140.4L913.5 141.1L914.1 141.5L914.7 141.6L915.3 141.7L915.9 141.8L916.5 141.7L917.1 141.6L917.7 141.5L918.3 141.6L918.9 141.9L919.5 141.9L920.1 139.5L920.7 135.6L921.3 130.0L921.9 123.8L922.5 118.3L923.1 114.7L923.7 119.0L924.3 125.9L924.9 132.6L925.5 136.9L926.1 140.0L926.7 141.8L927.3 143.1L927.9 144.0L928.5 144.5L929.1 144.9L929.7 145.2L930.3 145.4L930.9 145.5L931.5 145.7L932.1 145.8L932.7 145.9L933.3 146.0L933.9 145.6L934.5 144.1L935.1 142.3L935.7 139.9L936.3 138.0L936.9 136.9L937.5 136.5L938.1 136.5L938.7 136.5L939.3 137.0L939.9 138.1L940.5 140.0L941.1 142.4L941.7 144.3L942.3 146.1L942.9 147.7L943.5 149.2L944.1 150.5L944.7 151.9L945.3 152.7L945.9 152.7L946.5 152.4L947.1 151.7L947.7 149.9L948.3 148.1L948.9 146.0L949.5 144.0L950.1 142.0L950.7 140.0L951.3 138.0L951.9 135.9L952.5 133.6L953.1 131.1L953.7 132.9L954.3 136.7L954.9 138.4L955.5 139.7L956.1 141.1L956.7 142.3L957.3 143.2L957.9 144.0L958.5 144.5L959.1 144.6L959.7 144.7L960.3 144.7L960.9 144.9L961.5 145.4L962.1 145.9L962.7 146.0L963.3 145.9L963.9 145.6L964.5 145.3L965.1 144.7L965.7 143.9L966.3 143.2L966.9 142.7L967.5 142.3L968.1 142.4L968.7 143.0L969.3 144.0L969.9 145.5L970.5 147.6L971.1 151.0L971.7 155.0L972.3 158.8L972.9 162.4L973.5 165.2L974.1 166.3L974.7 166.6L975.3 166.6L975.9 166.6L976.5 166.6L977.1 166.6L977.7 166.6L978.3 166.1L978.9 161.8L979.5 154.7L980.1 147.0L980.7 141.1L981.3 137.7L981.9 135.6L982.5 134.6L983.1 134.0L983.7 134.1L984.3 134.8L984.9 135.8L985.5 137.4L986.1 139.0L986.7 140.6L987.3 142.2L987.9 143.3L988.5 144.1L989.1 144.9L989.7 145.8L990.3 146.7L990.9 147.5L991.5 148.3L992.1 149.0L992.7 149.5L993.3 149.9L993.9 150.0L994.5 150.1L995.1 150.3L995.7 150.4L996.3 150.5L996.9 150.7L997.5 151.6L998.1 154.0L998.7 156.8L999.3 160.0L999.9 163.2L1000.5 165.1L1001.1 166.4L1001.7 166.6L1002.3 166.6L1002.9 166.6L1003.5 166.6L1004.1 166.6L1004.7 166.6L1005.3 166.6L1005.9 166.6L1006.5 166.6L1007.1 166.6L1007.7 166.6L1008.3 164.4L1008.9 162.0L1009.5 160.2" stroke="#ff2020" stroke-width="1.2" fill="none" stroke-linejoin="round"/>
<path d="M87.6 454L87.6 277L88.2 280.4L88.8 282.8L89.4 284.3L90 284.8L90.6 284.1L91.2 282.3L91.8 279.8L92.4 277.1L93 274.5L93.6 271.5L94.2 267.8L94.8 262.7L95.4 254.6L96 245.8L96.6 237.3L97.2 229L97.8 222.8L98.4 217.7L99 214.1L99.6 211.6L100.2 209.9L100.8 209.8L101.4 211.4L102 213.6L102.6 215.5L103.2 217.4L103.8 220L104.4 224.5L105 229.7L105.6 233.3L106.2 236.1L106.8 237.4L107.4 238.4L108 238.9L108.6 238.1L109.2 236.4L109.8 236L110.4 237.6L111 239.8L111.6 242.3L112.2 245.4L112.8 249L113.4 253.7L114 258.7L114.6 263.3L115.2 267.4L115.8 271.5L116.4 275.6L117 280.1L117.6 284.6L118.2 288.3L118.8 291.4L119.4 294.1L120 296.2L120.6 298L121.2 299.6L121.8 300.8L122.4 301.5L123 301.4L123.6 300.4L124.2 298.7L124.8 296.6L125.4 294.1L126 289.9L126.6 284.8L127.2 279.8L127.8 274.5L128.4 269.2L129 264.4L129.6 260L130.2 256.1L130.8 253.3L131.4 250.9L132 249.5L132.6 250.6L133.2 254.1L133.8 257.7L134.4 261.6L135 263.9L135.6 265.5L136.2 266.5L136.8 267.2L137.4 267.7L138 267.5L138.6 266.6L139.2 265.7L139.8 265L140.4 264.5L141 264.8L141.6 266.7L142.2 269.1L142.8 271.4L143.4 274.1L144 276.8L144.6 279.8L145.2 282.8L145.8 285.9L146.4 288.9L147 291.9L147.6 294.9L148.2 298.2L148.8 301.2L149.4 303.7L150 306.1L150.6 308.3L151.2 309.7L151.8 310L152.4 310.2L153 310.3L153.6 310.4L154.2 310.3L154.8 309.5L155.4 307.9L156 305.9L156.6 303.5L157.2 299.4L157.8 294L158.4 288.9L159 283.8L159.6 278.8L160.2 273.7L160.8 268.9L161.4 265.1L162 262.3L162.6 262.4L163.2 264.5L163.8 266.7L164.4 268.7L165 270.7L165.6 272.8L166.2 274.9L166.8 276.6L167.4 278L168 278.9L168.6 278.6L169.2 276.7L169.8 274.6L170.4 273.1L171 271.6L171.6 270.8L172.2 271L172.8 271.9L173.4 273L174 274.8L174.6 277.1L175.2 280L175.8 283.7L176.4 287.2L177 290.4L177.6 293.3L178.2 295.8L178.8 298L179.4 299.2L180 299.9L180.6 300.3L181.2 300.3L181.8 300L182.4 299.5L183 298.4L183.6 292.8L184.2 286.2L184.8 279.2L185.4 271.4L186 262.4L186.6 253.1L187.2 244.4L187.8 236L188.4 229.2L189 223.7L189.6 219.1L190.2 215.6L190.8 212.5L191.4 210.1L192 209.8L192.6 212.8L193.2 216.9L193.8 220.1L194.4 223.1L195 225.9L195.6 228.5L196.2 230.9L196.8 233.2L197.4 235.3L198 235.8L198.6 235.1L199.2 234L199.8 233.4L200.4 232.8L201 232.7L201.6 233.5L202.2 234.8L202.8 236.5L203.4 239.2L204 243.6L204.6 248.9L205.2 254.4L205.8 259.8L206.4 264.4L207 268.7L207.6 272.7L208.2 276.8L208.8 280.4L209.4 282.2L210 283.5L210.6 284.6L211.2 285.2L211.8 285.3L212.4 285.2L213 284.9L213.6 284.5L214.2 283.9L214.8 278.3L215.4 270L216 262.1L216.6 253.2L217.2 242.5L217.8 231.5L218.4 222.5L219 215.1L219.6 210.6L220.2 207.3L220.8 205L221.4 203.2L222 202.6L222.6 205.4L223.2 209L223.8 212.4L224.4 214.4L225 215.5L225.6 216.9L226.2 219.4L226.8 221.9L227.4 224.5L228 225.6L228.6 225.3L229.2 225.1L229.8 225.1L230.4 225.1L231 226.2L231.6 228.1L232.2 230.3L232.8 233.9L233.4 239.7L234 245.8L234.6 252L235.2 258.1L235.8 263.1L236.4 267.5L237 271.4L237.6 274.9L238.2 278.2L238.8 281.1L239.4 283.6L240 285.8L240.6 287.6L241.2 288.7L241.9 289.4L242.5 289.8L243.1 289.3L243.7 287.7L244.3 285.4L244.9 278.9L245.5 268.8L246.1 258.3L246.7 247.2L247.3 237.5L247.9 229.1L248.5 221.4L249.1 217.8L249.7 216.1L250.3 215.3L250.9 214.8L251.5 214.6L252.1 215.4L252.7 217.4L253.3 219.6L253.9 222L254.5 224.5L255.1 226.9L255.7 229.3L256.3 232L256.9 234L257.5 235.1L258.1 235.9L258.7 236.5L259.3 236.9L259.9 236.2L260.5 234.8L261.1 233.7L261.7 233.2L262.3 234.9L262.9 237.9L263.5 240.6L264.1 243.7L264.7 247.2L265.3 251.4L265.9 256L266.5 260.8L267.1 266L267.7 270.8L268.3 275L268.9 278.9L269.5 282.5L270.1 286.1L270.7 287.9L271.3 288.5L271.9 288.9L272.5 289.1L273.1 286.7L273.7 279.9L274.3 273.4L274.9 266.1L275.5 257.4L276.1 247.4L276.7 238L277.3 229L277.9 223.1L278.5 219.4L279.1 217.7L279.7 217.1L280.3 217.3L280.9 217.9L281.5 218.4L282.1 218.9L282.7 219.6L283.3 221.1L283.9 223.1L284.5 224.7L285.1 226.2L285.7 227.7L286.3 229.2L286.9 230.8L287.5 232.1L288.1 233.3L288.7 233.9L289.3 232.7L289.9 230.6L290.5 228.7L291.1 226.8L291.7 226.6L292.3 228.6L292.9 231.2L293.5 233.3L294.1 235.8L294.7 239.5L295.3 245.8L295.9 252.2L296.5 258.4L297.1 263.9L297.7 268.5L298.3 272.6L298.9 276.5L299.5 280.6L300.1 283.7L300.7 285.2L301.3 286.5L301.9 287.2L302.5 286.8L303.1 283.5L303.7 279.7L304.3 274.6L304.9 267L305.5 256.6L306.1 246.5L306.7 236.5L307.3 229.1L307.9 223.5L308.5 220.1L309.1 217.8L309.7 216.9L310.3 216.7L310.9 216.6L311.5 216.6L312.1 216.8L312.7 217.7L313.3 220.2L313.9 222.6L314.5 224.8L315.1 227L315.7 229.2L316.3 231.2L316.9 233L317.5 235L318.1 236.3L318.7 236.2L319.3 235.6L319.9 235L320.5 234.4L321.1 233.9L321.7 235L322.3 238.8L322.9 242.2L323.5 245.9L324.1 249.8L324.7 254L325.3 258.4L325.9 263.2L326.5 268.4L327.1 273.2L327.7 277.2L328.3 280.9L328.9 284.4L329.5 288.3L330.1 292.4L330.7 295.1L331.3 296L331.9 296.7L332.5 297.1L333.1 297.3L333.7 296.6L334.3 294.4L334.9 290.9L335.5 286.6L336.1 281.9L336.7 277.3L337.3 272.4L337.9 267.7L338.5 263.3L339.1 260.2L339.7 258.1L340.3 256.5L340.9 255.7L341.5 256.1L342.1 256.9L342.7 258.5L343.3 260.5L343.9 262.6L344.5 264.9L345.1 266.6L345.7 268L346.3 269.3L346.9 270.2L347.5 271L348.1 271.4L348.7 271.1L349.3 269.2L349.9 266.2L350.5 264.1L351.1 262.7L351.7 261.8L352.3 262.3L352.9 264.1L353.5 266.2L354.1 268.8L354.7 271.9L355.3 275.6L355.9 279.9L356.5 285.4L357.1 290.9L357.7 295.8L358.3 299.4L358.9 302.4L359.5 305.4L360.1 307.8L360.7 309.3L361.3 310.6L361.9 311.5L362.5 312.4L363.1 312.9L363.7 312.4L364.3 311.3L364.9 310.1L365.5 308.4L366.1 305.7L366.7 302.1L367.3 298L367.9 293.3L368.5 287.9L369.1 282.7L369.7 278.9L370.3 277.5L370.9 276.8L371.5 276.5L372.1 276.9L372.7 277.8L373.3 278.9L373.9 280.2L374.5 282.1L375.1 284.5L375.7 286.6L376.3 288.2L376.9 289.5L377.5 290.7L378.1 290.4L378.7 289L379.3 287.7L379.9 285.7L380.5 282.6L381.1 279.3L381.7 276.5L382.3 275L382.9 274L383.5 273.5L384.1 273.8L384.7 274.3L385.3 275.5L385.9 278.5L386.5 282L387.1 285.9L387.7 289.2L388.3 292.1L388.9 294.8L389.5 297.2L390.1 298.6L390.7 299.6L391.3 300.1L391.9 300.3L392.5 299.1L393.1 297.1L393.7 293.9L394.3 288.5L394.9 280.7L395.5 271L396.1 260.4L396.7 246.3L397.3 235.9L397.9 229.7L398.5 224.1L399.1 221.4L399.7 220.4L400.3 220.1L400.9 221.1L401.5 222.6L402.1 223.8L402.7 225L403.3 226.2L403.9 227.4L404.5 228.6L405.1 229.7L405.7 231.3L406.3 233.3L406.9 235.1L407.5 236.9L408.1 237.1L408.7 236.8L409.3 236.5L409.9 236.2L410.5 236.1L411.1 236.1L411.7 236.2L412.3 236.4L412.9 237.4L413.5 239.1L414.1 241.7L414.7 245.2L415.3 250.1L415.9 256.1L416.5 261L417.1 265.5L417.7 269.7L418.3 272.8L418.9 275.4L419.5 277.9L420.1 280.2L420.7 281.7L421.3 282.8L421.9 283.9L422.5 284.2L423.1 282.5L423.7 280.1L424.3 275.6L424.9 267.7L425.5 258.1L426.1 248.4L426.7 239.5L427.3 229.8L427.9 222L428.5 218L429.1 214.8L429.7 213.2L430.3 215.3L430.9 217.2L431.5 218.7L432.1 219.4L432.7 220L433.3 220.5L433.9 221.1L434.5 222L435.1 223.3L435.7 224.6L436.3 225.8L436.9 226.9L437.5 227.7L438.1 228.3L438.7 228.8L439.3 228.7L439.9 226.1L440.5 223.3L441.1 220.5L441.7 220.7L442.3 222.7L442.9 225.2L443.5 227.7L444.1 230.6L444.7 234.4L445.3 239.6L445.9 245.4L446.5 251.5L447.1 256.5L447.7 261L448.3 265.2L448.9 269L449.5 271.8L450.1 273.9L450.7 275.9L451.3 277.8L451.9 278.2L452.5 277.9L453.1 277.2L453.7 274.6L454.3 267.6L454.9 261.2L455.5 253.9L456.1 244.1L456.7 233.8L457.3 223.9L457.9 218.1L458.5 213.7L459.1 209L459.7 205L460.3 205.2L460.9 207.5L461.5 209.6L462.1 210.9L462.7 211.7L463.3 212.6L463.9 213.4L464.5 214.6L465.1 216.5L465.7 218.4L466.3 220.3L466.9 221.8L467.5 223L468.1 224.2L468.7 223.9L469.3 219.7L469.9 215.9L470.5 213.8L471.1 214.2L471.7 215L472.3 216.7L472.9 221L473.5 225.9L474.1 230.5L474.7 235.1L475.3 241.2L475.9 246.3L476.5 250.7L477.1 254.9L477.7 258.7L478.3 261.9L478.9 264.5L479.5 266.9L480.1 269.2L480.7 270.7L481.3 271.6L481.9 272.1L482.5 272.3L483.1 271.6L483.7 270.2L484.3 267.3L484.9 260.9L485.5 252.7L486.1 243.5L486.7 234.5L487.3 225.2L487.9 216.2L488.5 210.3L489.1 205.3L489.7 200.1L490.3 199.8L490.9 199.7L491.5 199.4L492.1 199L492.7 199L493.3 201.9L493.9 205.4L494.5 208.5L495.1 210.6L495.7 212.5L496.3 213.9L496.9 214.3L497.5 214.6L498.1 214.9L498.7 214.9L499.3 212.3L499.9 209.8L500.5 208.1L501.1 209.1L501.7 211.2L502.3 213.9L502.9 216.5L503.5 219.4L504.1 222.7L504.7 226.6L505.3 231.4L505.9 238.5L506.5 244.8L507.1 250.7L507.7 257L508.3 262.1L508.9 265.9L509.5 269.5L510.1 273.3L510.7 275.6L511.3 276.5L511.9 277L512.5 277.3L513.1 276.3L513.7 274L514.3 270.4L514.9 264.3L515.5 256.5L516.1 247.3L516.7 239.4L517.3 231.8L517.9 224.3L518.5 219.4L519.1 215.7L519.7 211.8L520.3 210.4L520.9 209.8L521.5 209.7L522.1 211.9L522.7 215.1L523.3 218.8L523.9 222L524.5 225.6L525.1 228.9L525.7 230.7L526.3 232L526.9 233L527.5 232.9L528.1 232.2L528.7 231.4L529.3 230.2L529.9 228.8L530.5 227.3L531.1 226.4L531.7 228.1L532.3 230.9L532.9 233.9L533.5 237.6L534.1 242L534.7 246.7L535.3 251.6L535.9 256.7L536.5 261.7L537.1 266.4L537.7 270.7L538.3 274.7L538.9 278.4L539.5 282L540.1 285.1L540.7 287.2L541.3 288.8L541.9 290.4L542.5 291.5L543.1 291.4L543.7 291L544.3 290.5L544.9 288.3L545.5 284.3L546.1 280.6L546.7 276.7L547.3 272.6L547.9 268.3L548.6 264.1L549.2 259.8L549.8 256L550.4 252.8L551 249.8L551.6 246.6L552.2 245.8L552.8 248L553.4 250.7L554 253.1L554.6 255.4L555.2 257.4L555.8 259.3L556.4 261.4L557 262.7L557.6 262.4L558.2 261.8L558.8 261.3L559.4 260.8L560 260.4L560.6 260.2L561.2 260.2L561.8 260.9L562.4 262.5L563 264.2L563.6 266.4L564.2 269.4L564.8 272.5L565.4 275.5L566 278.8L566.6 282.5L567.2 286.1L567.8 289.9L568.4 293.2L569 295.8L569.6 298.1L570.2 300.3L570.8 302.8L571.4 304.9L572 306.3L572.6 307.5L573.2 307.9L573.8 307.9L574.4 307.9L575 307.9L575.6 307.9L576.2 305.1L576.8 301L577.4 296.8L578 292.3L578.6 287.8L579.2 283.1L579.8 279.2L580.4 276.3L581 273L581.6 271.1L582.2 270.4L582.8 270.4L583.4 272.6L584 275.7L584.6 278.7L585.2 280.8L585.8 282.6L586.4 284.1L587 285L587.6 285.9L588.2 286.5L588.8 285.2L589.4 283.6L590 280.9L590.6 276.8L591.2 271.5L591.8 268.3L592.4 266.2L593 264.5L593.6 264.1L594.2 264.9L594.8 266.4L595.4 268.8L596 271.5L596.6 274.7L597.2 278L597.8 281.4L598.4 284.5L599 287.5L599.6 290.1L600.2 292L600.8 293.4L601.4 294.5L602 295.3L602.6 294.8L603.2 293.2L603.8 290.9L604.4 286.4L605 278.3L605.6 266.9L606.2 254.6L606.8 243L607.4 233.1L608 224.4L608.6 219.8L609.2 216.6L609.8 216.6L610.4 219L611 221.5L611.6 222.5L612.2 223.4L612.8 224.3L613.4 225.6L614 227.4L614.6 229.3L615.2 231.2L615.8 232.9L616.4 234.5L617 236L617.6 237.8L618.2 238.9L618.8 237.6L619.4 235.5L620 233.4L620.6 231.3L621.2 229.4L621.8 227.5L622.4 227L623 228.6L623.6 230.8L624.2 233.8L624.8 237.2L625.4 242L626 247.7L626.6 253.4L627.2 259.8L627.8 265.7L628.4 269.8L629 273.3L629.6 277L630.2 280.1L630.8 282L631.4 283.4L632 284.6L632.6 284.7L633.2 284.1L633.8 283.3L634.4 280.5L635 274.2L635.6 265L636.2 253.1L636.8 240.1L637.4 229.8L638 220.4L638.6 216.6L639.2 213.9L639.8 214.4L640.4 215.6L641 216.5L641.6 216.9L642.2 217.4L642.8 218.1L643.4 219.8L644 222L644.6 224.1L645.2 226.1L645.8 227.5L646.4 228.6L647 229.8L647.6 230.8L648.2 230.6L648.8 229.6L649.4 228.5L650 227.1L650.6 225.6L651.2 224.1L651.8 223.1L652.4 224.5L653 226.8L653.6 229L654.2 233.4L654.8 239.7L655.4 246L656 251.4L656.6 256.7L657.2 261.9L657.8 265.9L658.4 269.3L659 272.7L659.6 275.7L660.2 277.4L660.8 278.5L661.4 279.4L662 279.7L662.6 278.5L663.2 277L663.8 272.4L664.4 265.5L665 258.2L665.6 250.1L666.2 239.7L666.8 230L667.4 223.5L668 216.1L668.6 211.4L669.2 209.5L669.8 207.8L670.4 206.8L671 206.6L671.6 206.6L672.2 207L672.8 209.3L673.4 211.8L674 214.6L674.6 216.9L675.2 219L675.8 221.2L676.4 223.2L677 224.7L677.6 225.8L678.2 226.8L678.8 227L679.4 225L680 222.6L680.6 221.1L681.2 220.8L681.8 220.8L682.4 221.9L683 224.3L683.6 227.4L684.2 231.2L684.8 236.1L685.4 242.7L686 248.7L686.6 254.7L687.2 260.9L687.8 265.8L688.4 269.9L689 273.8L689.6 277.7L690.2 279.8L690.8 281.1L691.4 282.2L692 282.8L692.6 281.5L693.2 279.9L693.8 275.8L694.4 269L695 261.8L695.6 253.8L696.2 243.9L696.8 233.6L697.4 227.4L698 220.7L698.6 215.5L699.2 213.5L699.8 212.1L700.4 212.3L701 212.9L701.6 213.8L702.2 214L702.8 214.1L703.4 214.2L704 214.7L704.6 216.4L705.2 218.5L705.8 220.9L706.4 222.4L707 223.5L707.6 224.6L708.2 225.6L708.8 226L709.4 226.1L710 226.3L710.6 226.3L711.2 225.6L711.8 225.2L712.4 226.2L713 228.8L713.6 232.2L714.2 236.6L714.8 241.6L715.4 246.9L716 252.8L716.6 258.9L717.2 265.2L717.8 270L718.4 273.8L719 277.4L719.6 281.1L720.2 283.4L720.8 284.7L721.4 285.8L722 286.6L722.6 285.4L723.2 283.9L723.8 280.3L724.4 273.1L725 265.3L725.6 257.5L726.2 248.1L726.8 237.2L727.4 230.6L728 224.7L728.6 218.7L729.2 215.7L729.8 213.7L730.4 211.5L731 210.9L731.6 210.7L732.2 210.7L732.8 212L733.4 213.7L734 215.9L734.6 218.6L735.2 221.3L735.8 224.2L736.4 226.8L737 229L737.6 231.1L738.2 233.4L738.8 234.6L739.4 234.5L740 234.2L740.6 233.8L741.2 233.7L741.8 235.2L742.4 236.8L743 238.7L743.6 242.5L744.2 247.6L744.8 252.8L745.4 258.5L746 264.6L746.6 270.8L747.2 276.4L747.8 280.9L748.4 285.1L749 289.5L749.6 292.9L750.2 294.9L750.8 296.5L751.4 298.3L752 299.2L752.6 299.5L753.2 299.8L753.8 299.5L754.4 296.8L755 293.8L755.6 290.3L756.2 286L756.8 281.2L757.4 276.1L758 271L758.6 266.6L759.2 262.5L759.8 258.5L760.4 254.9L761 252.5L761.6 250.7L762.2 249.1L762.8 250L763.4 252.8L764 255.8L764.6 258.9L765.2 261.9L765.8 265.2L766.4 267.8L767 268.8L767.6 269.5L768.2 270.4L768.8 270.6L769.4 269L770 267.2L770.6 265.3L771.2 263.4L771.8 261.4L772.4 259.7L773 261.4L773.6 263.9L774.2 266.5L774.8 269.2L775.4 273.4L776 277.7L776.6 281.9L777.2 286.7L777.8 291.3L778.4 295.2L779 298.9L779.6 302.5L780.2 305.5L780.8 307.6L781.4 309.3L782 311L782.6 312.1L783.2 312.3L783.8 312.4L784.4 312.4L785 311.6L785.6 310.2L786.2 308.7L786.8 306.2L787.4 302.3L788 297L788.6 292.1L789.2 287.7L789.8 282.9L790.4 279.3L791 277.2L791.6 275L792.2 273.6L792.8 272.9L793.4 273L794 275.9L794.6 279.5L795.2 282.4L795.8 283.9L796.4 285.4L797 286.6L797.6 287.6L798.2 288.4L798.8 289L799.4 288.4L800 286.4L800.6 283.6L801.2 276.9L801.8 267.2L802.4 263.4L803 262.4L803.6 263L804.2 265.3L804.8 268.1L805.4 271.5L806 275.3L806.6 279.4L807.2 282.9L807.8 286L808.4 289.5L809 292.8L809.6 295L810.2 297.2L810.8 299.1L811.4 299.5L812 299.7L812.6 299.8L813.2 298.2L813.8 292.6L814.4 284.4L815 273.9L815.6 263.7L816.2 251.5L816.8 239.1L817.4 229.7L818 222.4L818.6 217.3L819.2 215.3L819.8 213.9L820.4 215.7L821 218L821.6 219.6L822.2 220.4L822.8 221.3L823.4 222L824 223.4L824.6 226.7L825.2 229.9L825.8 232.7L826.4 234.6L827 236.4L827.6 237.7L828.2 237.2L828.8 236.4L829.4 235.5L830 233.8L830.6 231.3L831.2 228.5L831.8 229.4L832.4 231.8L833 234.9L833.6 238.4L834.2 242.4L834.8 247.1L835.4 252.4L836 259.3L836.6 265L837.2 268.7L837.8 272.2L838.4 275.7L839 278.5L839.6 280.6L840.2 282.5L840.8 284L841.4 285L842 285.9L842.6 286.6L843.2 284.7L843.8 282.1L844.4 277.5L845 270.5L845.6 262.7L846.2 251.8L846.8 240.5L847.4 230.4L848 222L848.6 215.2L849.2 211L849.8 207.8L850.4 207.4L851 208.8L851.6 210.6L852.2 212.3L852.8 213.7L853.4 215.2L854 216.8L854.6 218.6L855.2 220.5L855.9 222.4L856.5 224.1L857.1 225.8L857.7 227.7L858.3 226.4L858.9 224.4L859.5 222.6L860.1 221.4L860.7 220.4L861.3 220.4L861.9 221.9L862.5 224.1L863.1 227L863.7 230.6L864.3 235.9L864.9 241.2L865.5 246.5L866.1 251.9L866.7 256.7L867.3 260.5L867.9 264.1L868.5 267.7L869.1 270.7L869.7 273.2L870.3 275.5L870.9 277.6L871.5 278.5L872.1 279.2L872.7 279.8L873.3 278.8L873.9 277L874.5 273.6L875.1 266.5L875.7 258.9L876.3 249.2L876.9 238.9L877.5 229.8L878.1 222.5L878.7 214.1L879.3 208.3L879.9 205.3L880.5 202.4L881.1 200.7L881.7 199.9L882.3 199.6L882.9 199.6L883.5 200L884.1 201.7L884.7 204.3L885.3 207.6L885.9 209.3L886.5 210.7L887.1 212.3L887.7 213.7L888.3 214.4L888.9 215L889.5 215.6L890.1 216.1L890.7 216.9L891.3 217.9L891.9 219L892.5 220.7L893.1 223.4L893.7 227.2L894.3 231.7L894.9 235.7L895.5 241.6L896.1 247.7L896.7 253.1L897.3 258.4L897.9 263.2L898.5 266.6L899.1 269.6L899.7 272.7L900.3 275.2L900.9 276.4L901.5 277.3L902.1 278.2L902.7 278.1L903.3 277L903.9 275.1L904.5 269.7L905.1 263.3L905.7 256.3L906.3 248.7L906.9 238.8L907.5 229.2L908.1 220.4L908.7 212.4L909.3 206L909.9 201.3L910.5 196.4L911.1 192.9L911.7 191.1L912.3 189.4L912.9 188L913.5 187.6L914.1 188.1L914.7 191.9L915.3 195.9L915.9 198.1L916.5 199.9L917.1 201.7L917.7 203.5L918.3 205.5L918.9 208.1L919.5 209.4L920.1 210.1L920.7 210.7L921.3 211.7L921.9 213.6L922.5 216.4L923.1 219.9L923.7 222.9L924.3 227.1L924.9 232.2L925.5 237.5L926.1 242.7L926.7 248L927.3 253.1L927.9 258.1L928.5 262.9L929.1 266.4L929.7 269.2L930.3 272.3L930.9 275.2L931.5 276.7L932.1 278L932.7 278.3L933.3 277.7L933.9 276.7L934.5 272.2L935.1 266.5L935.7 259.7L936.3 251.3L936.9 240.7L937.5 230.4L938.1 221.6L938.7 213.1L939.3 207L939.9 204.3L940.5 201.9L941.1 200.7L941.7 201.8L942.3 203.3L942.9 205.4L943.5 208L944.1 211.9L944.7 215.4L945.3 218.8L945.9 222.3L946.5 225.1L947.1 227.4L947.7 230.6L948.3 231.2L948.9 230.3L949.5 229.6L950.1 229.1L950.7 228.9L951.3 228.9L951.9 230.4L952.5 232.7L953.1 235.8L953.7 240L954.3 244.5L954.9 249.4L955.5 254.4L956.1 259.5L956.7 264.3L957.3 268.8L957.9 273L958.5 276.8L959.1 280.4L959.7 283.8L960.3 286.5L960.9 288.7L961.5 290.6L962.1 292.6L962.7 293.5L963.3 293.8L963.9 294L964.5 293.9L965.1 292L965.7 289.6L966.3 286.1L966.9 281.1L967.5 275.6L968.1 270.9L968.7 265.8L969.3 260.2L969.9 256.6L970.5 253.2L971.1 250.1L971.7 248.9L972.3 248.2L972.9 251.1L973.5 254.8L974.1 257.8L974.7 260.1L975.3 262.9L975.9 265.1L976.5 266.6L977.1 268.2L977.7 269.2L978.3 269.6L978.9 270.1L979.5 270.1L980.1 267.4L980.7 264.4L981.3 262.1L981.9 260.9L982.5 260.3L983.1 260.8L983.7 262L984.3 263.9L984.9 266.7L985.5 270.5L986.1 275.4L986.7 280.1L987.3 284.7L987.9 289.1L988.5 292.9L989.1 296.4L989.7 299.8L990.3 302.4L990.9 304.1L991.5 305.9L992.1 307.2L992.7 307.5L993.3 307.8L993.9 307.9L994.5 306.8L995.1 304.9L995.7 302.5L996.3 299.3L996.9 294.8L997.5 289.2L998.1 283.8L998.7 278.4L999.3 273.3L999.9 270L1000.5 267.2L1001.1 264.1L1001.7 263L1002.3 262.4L1002.9 262.6L1003.5 264.4L1004.1 266.4L1004.7 268.8L1005.3 271.5L1005.9 273.5L1006.5 274.6L1007.1 275.5L1007.7 276.1L1008.3 276.4L1008.9 276.7L1009.5 277L1009.5 454.0Z" fill="#993300"/>
<path d="M133.4 454L133.4 454L134 458.2L134.7 461.8L135.3 464.7L135.9 467.5L136.5 469.4L137.1 469.5L137.7 467.5L138.4 465L139 462.3L139.6 459.4L140.2 457.1L140.8 455.3L141.4 454L141.4 454.0Z" fill="#ff0000"/>
<path d="M162.8 454L162.8 454L163.4 457.7L164 460.3L164.7 461.4L165.3 462.1L165.9 462L166.5 460.1L167.1 460.1L167.8 461.4L168.4 460.7L169 458L169.6 455.4L170.2 454L170.2 454.0Z" fill="#ff0000"/>
<path d="M176.1 454L176.1 454L176.7 456.8L177.3 459.2L177.9 461L178.5 462.3L179 463.4L179.6 464L180.2 463.7L180.8 462.6L181.4 461.2L182 459.7L182.6 458L183.2 456.1L183.8 454L183.8 454.0Z" fill="#ff0000"/>
<path d="M205.8 454L205.8 454L206.4 455.8L206.9 457.3L207.5 458.1L208.1 458.2L208.7 457.9L209.2 457.4L209.8 456.8L210.4 456.1L210.9 455.2L211.5 454L211.5 454.0Z" fill="#ff0000"/>
<path d="M225.8 454L225.8 454L226.4 458.8L227 462.2L227.6 463.9L228.2 463.7L228.8 462.3L229.4 460.5L230 459L230.6 457.5L231.2 455.8L231.8 454L231.8 454.0Z" fill="#ff0000"/>
<path d="M248.8 454L248.8 454L249.4 458.4L250 462.6L250.6 466.5L251.2 470.2L251.8 473.7L252.4 477L253 480.2L253.6 483.9L254.2 487L254.8 488.3L255.4 486.8L256.1 483.4L256.7 479.7L257.3 475.4L257.9 470.6L258.5 465.9L259.1 461.7L259.7 457.8L260.3 454L260.3 454.0Z" fill="#ff0000"/>
<path d="M281.6 454L281.6 454L282.2 459.3L282.8 464.2L283.4 468.5L284 472.5L284.6 476L285.2 478.8L285.8 481.2L286.4 482.3L287.1 480.4L287.7 476.5L288.3 472.1L288.9 466.1L289.5 460.3L290.1 456.4L290.7 454L290.7 454.0Z" fill="#ff0000"/>
<path d="M311.5 454L311.5 454L312.1 460.1L312.7 465.9L313.3 471.7L313.9 477.2L314.6 482.1L315.2 485.8L315.8 482.7L316.4 477.3L317 471.8L317.6 466.1L318.3 461.4L318.9 457.4L319.5 454L319.5 454.0Z" fill="#ff0000"/>
<path d="M341 454L341 454L341.6 460.1L342.2 465.9L342.8 471.3L343.4 476.5L344 482.8L344.6 485.2L345.2 484.7L345.8 484L346.4 483.3L347 482.1L347.7 478.7L348.3 471.7L348.9 465.8L349.5 460.7L350.1 456.8L350.7 454L350.7 454.0Z" fill="#ff0000"/>
<path d="M368 454L368 454L368.6 460.6L369.2 467.4L369.8 474.7L370.4 482.3L371 489L371.6 494.7L372.2 499.5L372.8 503.8L373.4 506.5L374 506.3L374.6 505.7L375.2 505.3L375.8 505.5L376.4 506L377 506.4L377.6 506.5L378.2 503.8L378.7 498.9L379.3 489.5L379.9 480.1L380.5 472L381.1 465.1L381.7 459L382.3 454L382.3 454.0Z" fill="#ff0000"/>
<path d="M400.2 454L400.2 454L400.8 458.3L401.4 463L401.9 468.4L402.5 473.2L403.1 477.1L403.7 479.9L404.3 480.7L404.9 481.1L405.5 481.7L406.1 482.7L406.7 480.1L407.2 473.5L407.8 466.4L408.4 460.7L409 456.5L409.6 454L409.6 454.0Z" fill="#ff0000"/>
<path d="M429.7 454L429.7 454L430.3 456L430.9 458.2L431.5 460.3L432.1 462.5L432.7 464.4L433.3 466.2L433.9 467.6L434.5 468.7L435.1 469.5L435.7 469.9L436.3 470.1L436.9 470.1L437.5 466.2L438.1 463.1L438.7 460.5L439.3 458.1L439.9 455.9L440.5 454L440.5 454.0Z" fill="#ff0000"/>
<path d="M461.7 454L461.7 454L462.2 457.2L462.8 460.4L463.4 463.9L464 466.7L464.6 468.7L465.2 470L465.8 470.6L466.4 470.9L467 470.9L467.6 469.8L468.1 468L468.7 464.7L469.3 460.4L469.9 457L470.5 454L470.5 454.0Z" fill="#ff0000"/>
<path d="M492.1 454L492.1 454L492.7 457.4L493.3 460.7L493.9 463.9L494.6 466.4L495.2 468.4L495.8 469.3L496.4 469.7L497 468.4L497.7 463.6L498.3 460L498.9 456.7L499.5 454L499.5 454.0Z" fill="#ff0000"/>
<path d="M522.2 454L522.2 454L522.8 458.3L523.4 463.6L524 470.2L524.7 475.5L525.3 478.7L525.9 480.5L526.5 480L527.1 476.5L527.8 472L528.4 466.1L529 460.2L529.6 454L529.6 454.0Z" fill="#ff0000"/>
<path d="M551.5 454L551.5 454L552.1 459.8L552.7 465.8L553.3 472.1L553.9 478.5L554.5 484.7L555.1 490.8L555.7 495.5L556.3 499.5L556.9 501.6L557.5 500.2L558.1 496.9L558.7 492.5L559.3 485.7L559.9 479.1L560.5 472.9L561.1 467.3L561.7 463.1L562.3 459.6L562.9 456.6L563.5 454L563.5 454.0Z" fill="#ff0000"/>
<path d="M581.5 454L581.5 454L582.1 460.4L582.7 465.8L583.3 470.5L583.9 474.5L584.6 477.8L585.2 480.6L585.8 481.9L586.4 482.8L587 483.2L587.6 481.9L588.2 476.6L588.8 470.9L589.4 464.7L590 459.1L590.7 454L590.7 454.0Z" fill="#ff0000"/>
<path d="M610 454L610 454L610.6 458.4L611.1 463.1L611.7 468.1L612.3 473.4L612.9 478.3L613.5 483.1L614.1 487L614.7 489.3L615.3 491.1L615.8 491.4L616.4 489.3L617 485.9L617.6 481.7L618.2 476.1L618.8 470.7L619.4 465.2L619.9 460.4L620.5 456.8L621.1 454L621.1 454.0Z" fill="#ff0000"/>
<path d="M640.9 454L640.9 454L641.6 458.7L642.2 463.5L642.8 468.4L643.4 473.4L644 477.8L644.6 482.1L645.2 485.2L645.8 487L646.4 487.7L647 484.4L647.7 479.1L648.3 472.2L648.9 465.6L649.5 459.6L650.1 454L650.1 454.0Z" fill="#ff0000"/>
<path d="M703.7 454L703.7 454L704.3 456L704.9 457.7L705.5 458.9L706.1 459.9L706.7 460.1L707.3 458.8L707.9 457.3L708.5 456.9L709.1 456.7L709.7 456.5L710.3 455.9L710.9 455L711.4 454L711.4 454.0Z" fill="#ff0000"/>
<path d="M731.4 454L731.4 454L732 458.7L732.6 463.2L733.2 467.7L733.8 471.8L734.4 475.3L735 478.4L735.6 480.5L736.2 482.1L736.9 482.8L737.5 481.5L738.1 478.7L738.7 475.1L739.3 469.9L739.9 465.1L740.5 460.5L741.1 456.6L741.7 454L741.7 454.0Z" fill="#ff0000"/>
<path d="M759.3 454L759.3 454L759.9 458.6L760.5 463.5L761.1 468.7L761.7 474.3L762.4 479.3L763 483.8L763.6 487.7L764.2 491.3L764.8 494.2L765.4 495.4L766 495.6L766.6 491.3L767.2 486L767.9 480.5L768.5 475.1L769.1 470.2L769.7 465.7L770.3 462L770.9 458.8L771.5 456.2L772.1 454.7L772.7 454L772.7 454.0Z" fill="#ff0000"/>
<path d="M789.4 454L789.4 454L790 460.2L790.6 465.7L791.2 470.2L791.8 474.2L792.4 477.8L793 481L793.6 483.5L794.2 485.6L794.8 485.9L795.4 485L796 483.5L796.6 481.6L797.2 478.6L797.8 475.1L798.4 471.4L799 467.2L799.6 463.3L800.2 460.2L800.8 457.4L801.4 455.2L802 454L802 454.0Z" fill="#ff0000"/>
<path d="M821.5 454L821.5 454L822.1 458.7L822.7 463.3L823.3 467.7L823.9 471.9L824.6 475.5L825.2 478.6L825.8 481.6L826.4 484.4L827 483.8L827.6 479.2L828.2 474.3L828.8 468.7L829.4 463.2L830 458L830.7 454L830.7 454.0Z" fill="#ff0000"/>
<path d="M850.8 454L850.8 454L851.4 457.2L852 461L852.6 465.2L853.2 470.1L853.7 474.6L854.3 478.8L854.9 482.1L855.5 484.1L856.1 485.2L856.7 484.2L857.3 480.9L857.9 476.4L858.4 470.8L859 465.4L859.6 460.4L860.2 456.7L860.8 454L860.8 454.0Z" fill="#ff0000"/>
<path d="M882.4 454L882.4 454L883 456.8L883.6 459.4L884.3 461.6L884.9 463.3L885.5 464.5L886.1 462.6L886.8 459.8L887.4 457.4L888 455.3L888.7 454L888.7 454.0Z" fill="#ff0000"/>
<path d="M943.9 454L943.9 454L944.5 456.2L945 458.2L945.6 460.3L946.2 461.4L946.7 461.1L947.3 460.2L947.9 457.7L948.5 455.5L949 454L949 454.0Z" fill="#ff0000"/>
<path d="M971.2 454L971.2 454L971.8 459.9L972.3 466.2L972.9 472.7L973.5 478.9L974.1 484.8L974.7 490L975.3 494.4L975.9 495.2L976.5 494.9L977.1 489L977.6 482.8L978.2 476.2L978.8 469.4L979.4 463.1L980 458.4L980.6 455.2L981.2 454L981.2 454.0Z" fill="#ff0000"/>
<path d="M986.6 454L986.6 454L987.2 455.2L987.9 456.2L988.5 456.7L989.1 457.1L989.7 457.4L990.3 457.6L990.9 457.7L991.5 457.6L992.1 457.5L992.7 457.3L993.3 457L993.9 456.4L994.5 455.7L995.1 455.2L995.7 455L996.3 454.9L996.9 454.8L997.5 454.7L998.1 454.7L998.7 455.1L999.3 456L999.9 457.2L1000.5 459.1L1001.1 460.4L1001.7 461.3L1002.3 462L1002.9 462.5L1003.5 462.8L1004.1 463L1004.7 463.1L1005.3 463.2L1005.9 463.1L1006.5 462.5L1007.1 461.7L1007.7 460.4L1008.3 458.5L1008.9 456.6L1009.5 455.2L1010.1 454L1010.1 454.0Z" fill="#ff0000"/>
<path d="M87.6 454L87.6 319L88.2 319.7L88.8 320L89.4 320.1L90 320.2L90.6 319.8L91.2 318.9L91.8 317.4L92.4 315.6L93 312.7L93.6 307.9L94.2 302.8L94.8 297.2L95.4 292.2L96 287.8L96.6 284.3L97.2 283.1L97.8 283.3L98.4 284L99 289.7L99.6 298.6L100.2 310.3L100.8 322.3L101.4 334.5L102 347.1L102.6 358.3L103.2 367.2L103.8 377L104.4 386L105 395L105.6 403.3L106.2 404.1L106.8 404.1L107.4 403.9L108 392.8L108.6 378.6L109.2 357.2L109.8 340.1L110.4 325.4L111 313.1L111.6 302.5L112.2 293.5L112.8 286L113.4 281L114 280.9L114.6 282.3L115.2 285.7L115.8 291.5L116.4 298L117 304.1L117.6 310.1L118.2 315.7L118.8 320.9L119.4 325.6L120 329.6L120.6 332.3L121.2 334.2L121.8 335.7L122.4 336.8L123 337.8L123.6 338.8L124.2 339.5L124.8 339.7L125.4 339.4L126 339.1L126.6 339.2L127.2 341.6L127.8 344.9L128.4 348.8L129 353.7L129.6 360.1L130.2 367.3L130.8 377.2L131.4 386.2L132 394.2L132.6 402.2L133.2 409.3L133.8 416.1L134.4 422.7L135 428.7L135.6 433.5L136.2 433.5L136.8 433.5L137.4 431.9L138 424L138.6 416.2L139.2 407.6L139.8 396.5L140.4 383.6L141 370.7L141.6 360.2L142.2 351.9L142.8 344L143.4 339L144 337.1L144.6 336.5L145.2 337.6L145.8 340.3L146.4 344.9L147 349.7L147.6 354.5L148.2 359.5L148.8 364.3L149.4 368.3L150 371.8L150.6 374.9L151.2 377.3L151.8 378.9L152.4 380L153 380.8L153.6 381.4L154.2 382L154.8 382.5L155.4 383.1L156 383.8L156.6 384.6L157.2 385.6L157.8 386.9L158.4 388.4L159 390.4L159.6 393L160.2 396L160.8 399.4L161.4 403.5L162 407.7L162.6 412.2L163.2 416.7L163.8 420.5L164.4 423.5L165 425.8L165.6 426.3L166.2 426.3L166.8 426.3L167.4 424.9L168 422.6L168.6 418L169.2 409L169.8 397.8L170.4 384.1L171 370.2L171.6 359.8L172.2 352.7L172.8 347.2L173.4 344.8L174 346.4L174.6 349.2L175.2 353.9L175.8 360.6L176.4 368.9L177 375.2L177.6 381.1L178.2 386.4L178.8 389.9L179.4 392.6L180 393.5L180.6 393.4L181.2 392.6L181.8 389.7L182.4 383L183 371L183.6 359.8L184.2 350.3L184.8 341.2L185.4 332.5L186 323.9L186.6 317.2L187.2 313.3L187.8 309.8L188.4 307.7L189 309.4L189.6 312.4L190.2 318.5L190.8 328.7L191.4 341.9L192 352.3L192.6 360.9L193.2 370.8L193.8 382.8L194.4 395.6L195 407.5L195.6 417.6L196.2 419.3L196.8 419.3L197.4 419.3L198 410.4L198.6 399L199.2 386.3L199.8 371.2L200.4 355.1L201 343L201.6 336.7L202.2 331.6L202.8 328.2L203.4 329.7L204 334.1L204.6 342.1L205.2 354.4L205.8 365.4L206.4 378.3L207 390L207.6 398L208.2 404.8L208.8 410.8L209.4 410.8L210 410.8L210.6 410.5L211.2 406.3L211.8 395.7L212.4 382L213 369.5L213.6 361.9L214.2 355.8L214.8 349.9L215.4 345.1L216 341.9L216.6 339.3L217.2 337.8L217.8 342L218.4 347.7L219 353.7L219.6 359.8L220.2 367.8L220.8 375.7L221.4 382.7L222 390L222.6 396.8L223.2 402.7L223.8 407.9L224.4 412.6L225 416.6L225.6 420L226.2 422.8L226.8 425.4L227.4 426.4L228 426.4L228.6 426.4L229.2 423.2L229.8 417.4L230.4 408.5L231 395.3L231.6 376.7L232.2 363.8L232.8 355.7L233.4 356L234 358L234.6 360.8L235.2 364.5L235.8 369.2L236.4 375.9L237 380.5L237.6 383.5L238.2 386.4L238.8 388.7L239.4 390.2L240 391.1L240.6 391.4L241.2 391L241.9 389.3L242.5 386.2L243.1 381.6L243.7 373.8L244.3 364.7L244.9 357L245.5 351.5L246.1 347.6L246.7 344.1L247.3 343.7L247.9 347L248.5 352L249.1 360.1L249.7 370.7L250.3 382.6L250.9 395.4L251.5 407.7L252.1 417.2L252.7 425.6L253.3 433.9L253.9 444L254.5 445.4L255.1 445.4L255.7 445.4L256.3 437.5L256.9 429.2L257.5 419.6L258.1 408.8L258.7 391.2L259.3 363L259.9 339.4L260.5 320.6L261.1 303L261.7 288.5L262.3 280.7L262.9 274.2L263.5 269.9L264.1 266.9L264.7 267L265.3 269.7L265.9 273.6L266.5 278L267.1 282.3L267.7 287.1L268.3 291.5L268.9 295.2L269.5 298.8L270.1 302.4L270.7 305.7L271.3 308.3L271.9 310.7L272.5 312.8L273.1 311.6L273.7 308L274.3 303.5L274.9 300.2L275.5 297.6L276.1 295.4L276.7 296.4L277.3 298.5L277.9 302.6L278.5 311.8L279.1 324L279.7 336.2L280.3 353.2L280.9 362.2L281.5 378.3L282.1 392.3L282.7 407.7L283.3 418.8L283.9 426.1L284.5 432.4L285.1 439.1L285.7 441.2L286.3 441.2L286.9 441.2L287.5 432.8L288.1 423L288.7 412.1L289.3 395.5L289.9 364.7L290.5 336.8L291.1 312.1L291.7 290.4L292.3 273.5L292.9 267.3L293.5 262.5L294.1 260.3L294.7 261.2L295.3 263.2L295.9 267.8L296.5 274.2L297.1 281.9L297.7 288.6L298.3 295.5L298.9 302.3L299.5 307L300.1 311L300.7 315.8L301.3 319.4L301.9 321L302.5 322.2L303.1 321.5L303.7 318.3L304.3 314.2L304.9 309.9L305.5 305.4L306.1 303.6L306.7 303.4L307.3 304.1L307.9 307.4L308.5 313.2L309.1 322.1L309.7 333.3L310.3 341.1L310.9 353.7L311.5 369.1L312.1 389.6L312.7 409L313.3 423.1L313.9 434.9L314.5 444.8L315.1 444.8L315.7 444.8L316.3 440.7L316.9 429.8L317.5 417L318.1 400.2L318.7 371.3L319.3 355.7L319.9 339.7L320.5 315.5L321.1 294.6L321.7 282.7L322.3 272.6L322.9 269L323.5 266.6L324.1 265.2L324.7 265.8L325.3 266.6L325.9 268.1L326.5 272.2L327.1 277L327.7 282.1L328.3 285.9L328.9 289.2L329.5 293.2L330.1 296.8L330.7 299L331.3 300.9L331.9 302.5L332.5 303.5L333.1 304.2L333.7 304.6L334.3 304.8L334.9 305L335.5 305.2L336.1 306L336.7 310.3L337.3 316.7L337.9 324.5L338.5 332.7L339.1 342L339.7 352.7L340.3 369.8L340.9 395.5L341.5 409.7L342.1 422.1L342.7 434.2L343.3 443.9L343.9 451.6L344.5 454L345.1 454L345.7 454L346.3 450.6L346.9 441.4L347.5 430L348.1 416.7L348.7 398.1L349.3 375.4L349.9 354.7L350.5 343.2L351.1 334L351.7 324.4L352.3 319.2L352.9 317.5L353.5 316.6L354.1 318.8L354.7 322L355.3 326.4L355.9 331.2L356.5 336.1L357.1 341L357.7 345.7L358.3 350.2L358.9 354.5L359.5 358.6L360.1 362.5L360.7 366.5L361.3 370.4L361.9 374.8L362.5 377.6L363.1 376.8L363.7 374.4L364.3 372.3L364.9 371.1L365.5 370.4L366.1 370.8L366.7 379L367.3 394.6L367.9 415.3L368.5 431.1L369.1 451.2L369.7 460.2L370.3 467.9L370.9 472.4L371.5 476.2L372.1 479.4L372.7 480.5L373.3 481L373.9 481.4L374.5 481.6L375.1 481.6L375.7 481.6L376.3 481.5L376.9 481.3L377.5 481L378.1 480L378.7 477.2L379.3 472.9L379.9 466.3L380.5 455.2L381.1 424.9L381.7 373.6L382.3 326.2L382.9 306.4L383.5 299.5L384.1 294.9L384.7 295.3L385.3 296.5L385.9 298.5L386.5 301.4L387.1 304.5L387.7 307.7L388.3 310.5L388.9 313.1L389.5 315.8L390.1 317.5L390.7 318.8L391.3 319.9L391.9 320L392.5 316.2L393.1 311.5L393.7 304L394.3 295.4L394.9 289L395.5 286L396.1 283.2L396.7 282.5L397.3 285.3L397.9 292.3L398.5 302.6L399.1 317.7L399.7 331.3L400.3 351.6L400.9 370.1L401.5 392.6L402.1 409.3L402.7 420.7L403.3 433.7L403.9 441L404.5 447.2L405.1 447.2L405.7 447.2L406.3 446.1L406.9 439.5L407.5 427.4L408.1 410.2L408.7 378.1L409.3 339.9L409.9 320.9L410.5 299.4L411.1 282.4L411.7 270.2L412.3 259.9L412.9 255L413.5 251.4L414.1 252.6L414.7 256.7L415.3 263.3L415.9 271.6L416.5 282.1L417.1 288.2L417.7 293L418.3 297.7L418.9 301.9L419.5 304.8L420.1 306.9L420.7 308.9L421.3 310.6L421.9 310.2L422.5 307.4L423.1 302.3L423.7 296.7L424.3 291.4L424.9 285.9L425.5 281.6L426.1 278.6L426.7 277.4L427.3 282.2L427.9 291.5L428.5 303.4L429.1 315.2L429.7 331.1L430.3 349.2L430.9 365.4L431.5 390.2L432.1 406.8L432.7 416.6L433.3 423.1L433.9 427.3L434.5 428.5L435.1 428.5L435.7 428.5L436.3 423.9L436.9 414.4L437.5 399.6L438.1 373.5L438.7 354.4L439.3 336.4L439.9 316.8L440.5 299.3L441.1 286.5L441.7 274.6L442.3 270.1L442.9 268.9L443.5 270.7L444.1 273.3L444.7 279.2L445.3 288.9L445.9 298.1L446.5 305.7L447.1 312.6L447.7 318.9L448.3 322.5L448.9 324.9L449.5 326.1L450.1 325.5L450.7 324.5L451.3 322.9L451.9 320.3L452.5 315.8L453.1 309.2L453.7 301.2L454.3 292.8L454.9 285.2L455.5 283.4L456.1 282.4L456.7 281.9L457.3 282.7L457.9 285.1L458.5 296L459.1 313.5L459.7 327.2L460.3 346.3L460.9 362.8L461.5 382.2L462.1 397.5L462.7 406.8L463.3 414.8L463.9 420.4L464.5 423.8L465.1 424.1L465.7 424.1L466.3 424.1L466.9 419.1L467.5 408.7L468.1 383.8L468.7 347L469.3 321.1L469.9 283.7L470.5 273.3L471.1 260.8L471.7 253.3L472.3 250.8L472.9 249.6L473.5 250.9L474.1 253.1L474.7 257.3L475.3 264.7L475.9 272L476.5 278.2L477.1 283.6L477.7 288.5L478.3 291.9L478.9 294.4L479.5 296.4L480.1 298.1L480.7 298.2L481.3 295.8L481.9 293.3L482.5 290.1L483.1 284.4L483.7 277.1L484.3 269.6L484.9 265.5L485.5 262L486.1 260.2L486.7 261.8L487.3 264L487.9 269.9L488.5 283.2L489.1 296.8L489.7 306.5L490.3 320.9L490.9 331.7L491.5 343.5L492.1 358.3L492.7 381.7L493.3 399.6L493.9 407.2L494.5 410.2L495.1 410.2L495.7 410.2L496.3 405.6L496.9 388.4L497.5 352.6L498.1 335.7L498.7 320.5L499.3 304.3L499.9 287L500.5 272.8L501.1 257.4L501.7 245.5L502.3 240L502.9 236.5L503.5 234.6L504.1 235.5L504.7 237.3L505.3 240.6L505.9 246.8L506.5 255.6L507.1 263.8L507.7 270.2L508.3 276.1L508.9 281.8L509.5 286.7L510.1 290.9L510.7 294.6L511.3 298.2L511.9 300.4L512.5 301.2L513.1 301.5L513.7 295.1L514.3 287.9L514.9 282.8L515.5 279.6L516.1 277.7L516.7 277.2L517.3 277.2L517.9 279.3L518.5 284.2L519.1 294.6L519.7 311.3L520.3 325.7L520.9 343.4L521.5 370.4L522.1 401.6L522.7 414.4L523.3 426.5L523.9 437.7L524.5 445L525.1 449.9L525.7 449.9L526.3 449.9L526.9 447L527.5 442.7L528.1 431.8L528.7 415L529.3 392.4L529.9 358.4L530.5 339.7L531.1 322.7L531.7 309.7L532.3 302.2L532.9 292.9L533.5 291.9L534.1 293.3L534.7 295.7L535.3 301.7L535.9 308L536.5 313.8L537.1 319.3L537.7 324.5L538.3 328.9L538.9 332.2L539.5 335.1L540.1 338L540.7 340.3L541.3 342L541.9 343.4L542.5 344.7L543.1 345.4L543.7 345.2L544.3 344.7L544.9 344.2L545.5 343.5L546.1 343L546.7 342.5L547.3 342.1L547.9 341.7L548.6 342.6L549.2 346.7L549.8 353.7L550.4 367.9L551 391.5L551.6 411L552.2 424.8L552.8 442.1L553.4 453.8L554 461L554.6 464.2L555.2 466.7L555.8 468.5L556.4 469L557 469L557.6 469L558.2 469L558.8 467.6L559.4 464.2L560 458.9L560.6 444L561.2 424.8L561.8 388.2L562.4 358L563 349L563.6 347L564.2 345.6L564.8 345L565.4 345.5L566 347.6L566.6 350.3L567.2 352.7L567.8 355.3L568.4 357.9L569 358.8L569.6 359.5L570.2 359.9L570.8 360.2L571.4 359.4L572 357.9L572.6 356.1L573.2 354.2L573.8 353L574.4 351.9L575 351.4L575.6 351.5L576.2 351.7L576.8 352.2L577.4 354.1L578 359L578.6 365.2L579.2 378L579.8 393.3L580.4 407.5L581 418.3L581.6 428.8L582.2 438.2L582.8 445.9L583.4 451.2L584 453.3L584.6 454L585.2 454L585.8 454L586.4 454L587 451.3L587.6 443L588.2 428.7L588.8 407.1L589.4 379.4L590 348.8L590.6 326L591.2 312.5L591.8 301.7L592.4 290.5L593 285.8L593.6 283.8L594.2 283.4L594.8 284.3L595.4 285.7L596 288.1L596.6 291.7L597.2 295.3L597.8 298.4L598.4 300.5L599 302.4L599.6 303.9L600.2 304.7L600.8 305.1L601.4 305.3L602 303.8L602.6 301.1L603.2 297.5L603.8 293L604.4 287.8L605 281.8L605.6 274.5L606.2 267.6L606.8 264.6L607.4 265.8L608 270.4L608.6 279.9L609.2 295.2L609.8 313.5L610.4 336.2L611 364.9L611.6 397.6L612.2 415.8L612.8 429.9L613.4 439.3L614 444.7L614.6 448L615.2 448L615.8 448L616.4 444.7L617 439.5L617.6 426.8L618.2 403.8L618.8 369.9L619.4 343L620 318.6L620.6 294.1L621.2 278L621.8 259.4L622.4 250.3L623 246.2L623.6 244.4L624.2 246.2L624.8 250.7L625.4 256.3L626 263.4L626.6 271.6L627.2 278.7L627.8 285.6L628.4 292L629 296.1L629.6 299.3L630.2 302.8L630.8 304.8L631.4 303.3L632 301.1L632.6 298.6L633.2 294.1L633.8 287.4L634.4 280.5L635 274.2L635.6 266.3L636.2 263.7L636.8 263.1L637.4 265.9L638 272.5L638.6 283.6L639.2 300.6L639.8 319.4L640.4 338.5L641 356.7L641.6 381.6L642.2 405.8L642.8 416.6L643.4 425.6L644 433.7L644.6 438.3L645.2 440.4L645.8 440.4L646.4 440.4L647 435.8L647.6 426.2L648.2 412.1L648.8 383.3L649.4 355.3L650 336.4L650.6 311.5L651.2 292.8L651.8 276.9L652.4 266.1L653 261.9L653.6 259.6L654.2 261.2L654.8 265.1L655.4 270.4L656 275.8L656.6 281L657.2 285.4L657.8 289.2L658.4 293.3L659 297.4L659.6 300L660.2 302.1L660.8 304L661.4 305.5L662 306.1L662.6 306.4L663.2 304.7L663.8 299.6L664.4 294.7L665 289.5L665.6 284.3L666.2 281.2L666.8 279.4L667.4 279.7L668 283.7L668.6 290.9L669.2 300.7L669.8 315.3L670.4 331.3L671 347.6L671.6 360.2L672.2 378L672.8 391.5L673.4 398.5L674 404.5L674.6 404.5L675.2 404.5L675.8 403.7L676.4 395.2L677 383.7L677.6 369.6L678.2 358.5L678.8 351.5L679.4 331.9L680 312.3L680.6 299.5L681.2 285.7L681.8 278.6L682.4 274.3L683 272.2L683.6 273.1L684.2 275.5L684.8 280.3L685.4 286.6L686 293.7L686.6 298.8L687.2 303.8L687.8 308.4L688.4 311.2L689 313.4L689.6 315.8L690.2 314.9L690.8 313.1L691.4 310.4L692 306.3L692.6 301.6L693.2 296.9L693.8 292.3L694.4 287.6L695 283L695.6 279.2L696.2 276.6L696.8 274.8L697.4 276.2L698 280.6L698.6 288.7L699.2 301.4L699.8 317.8L700.4 335.1L701 351.4L701.6 362.2L702.2 373.7L702.8 383.5L703.4 389.9L704 394.8L704.6 398.1L705.2 399.7L705.8 399.9L706.4 399.9L707 398.6L707.6 389.5L708.2 375.6L708.8 361.1L709.4 350.5L710 341.6L710.6 334.7L711.2 327.9L711.8 323.2L712.4 319.2L713 316.5L713.6 314.8L714.2 314.8L714.8 318.5L715.4 322.3L716 326.1L716.6 329.8L717.2 333.6L717.8 337.1L718.4 340.2L719 343.3L719.6 345.7L720.2 346.8L720.8 347.7L721.4 348.7L722 348.7L722.6 347.1L723.2 343.8L723.8 337.5L724.4 328.5L725 321.4L725.6 311.9L726.2 307.4L726.8 303.1L727.4 301.8L728 301.5L728.6 305.7L729.2 314L729.8 326.7L730.4 346.4L731 360L731.6 371.8L732.2 386.9L732.8 398.6L733.4 406.3L734 412.2L734.6 417.6L735.2 422.4L735.8 426.7L736.4 430.4L737 430.4L737.6 430.4L738.2 426.2L738.8 420L739.4 410.1L740 387.4L740.6 362.3L741.2 346.5L741.8 331.1L742.4 320.7L743 313.6L743.6 309.4L744.2 308.3L744.8 308.2L745.4 311.6L746 317L746.6 322.9L747.2 329.1L747.8 335.1L748.4 343L749 348.5L749.6 352.1L750.2 355.9L750.8 358.3L751.4 359.7L752 360.7L752.6 361.7L753.2 362.3L753.8 362.5L754.4 362.7L755 362.9L755.6 363.2L756.2 363.5L756.8 363.9L757.4 364.3L758 365L758.6 370.1L759.2 380.4L759.8 396L760.4 410.7L761 421.9L761.6 433.2L762.2 442.9L762.8 449.6L763.4 456.2L764 458.4L764.6 460.4L765.2 461.2L765.8 461.3L766.4 461.3L767 461.3L767.6 460.2L768.2 457.7L768.8 452.6L769.4 441.2L770 424.8L770.6 400.2L771.2 353.8L771.8 333.4L772.4 321.7L773 314.9L773.6 309.6L774.2 308.6L774.8 309.2L775.4 311.4L776 315.4L776.6 320.6L777.2 325.6L777.8 329L778.4 332.4L779 335.7L779.6 337.5L780.2 339.2L780.8 340.6L781.4 341.4L782 342L782.6 342.5L783.2 342.9L783.8 343.3L784.4 343.6L785 343.8L785.6 344.1L786.2 344.9L786.8 346.3L787.4 347.7L788 349.4L788.6 354.1L789.2 363.9L789.8 375.6L790.4 389.4L791 405.8L791.6 419.8L792.2 431.9L792.8 444.1L793.4 453.2L794 457L794.6 457L795.2 457L795.8 457L796.4 456.3L797 454.6L797.6 448.7L798.2 437.4L798.8 422L799.4 404.9L800 379.1L800.6 351.6L801.2 334.6L801.8 318.8L802.4 308.9L803 297.6L803.6 295.6L804.2 294L804.8 295.9L805.4 298.5L806 301.9L806.6 306.5L807.2 311.1L807.8 315.7L808.4 319.9L809 323.7L809.6 327.3L810.2 329L810.8 330.2L811.4 330.7L812 328.6L812.6 326.2L813.2 320.6L813.8 311.3L814.4 302.2L815 294.1L815.6 286.9L816.2 282.8L816.8 279.7L817.4 282.2L818 287.5L818.6 295.8L819.2 308.6L819.8 322.1L820.4 338.5L821 353.6L821.6 373.1L822.2 392.5L822.8 408.1L823.4 417.4L824 425.6L824.6 431.2L825.2 435L825.8 436.4L826.4 436.4L827 436.4L827.6 434.7L828.2 428.7L828.8 418.1L829.4 397.2L830 358.6L830.6 317.2L831.2 285.7L831.8 272.6L832.4 259.9L833 253.3L833.6 249.1L834.2 247.2L834.8 250L835.4 253.8L836 259.3L836.6 265L837.2 269.7L837.8 274.3L838.4 278.1L839 281.7L839.6 285.2L840.2 288.3L840.8 290.9L841.4 293.2L842 295.1L842.6 296L843.2 296.5L843.8 294.3L844.4 287.9L845 280.3L845.6 271.4L846.2 264.9L846.8 262.2L847.4 264.2L848 269L848.6 277.6L849.2 291.2L849.8 305L850.4 322.7L851 342.2L851.6 361.4L852.2 386.3L852.8 406.2L853.4 415.9L854 423.1L854.6 428.3L855.2 430.3L855.9 430.3L856.5 430.3L857.1 426.8L857.7 418L858.3 402.9L858.9 367.8L859.5 341.2L860.1 315.5L860.7 291.4L861.3 277.9L861.9 261.7L862.5 256.2L863.1 252.7L863.7 251.6L864.3 253.6L864.9 257.4L865.5 261.9L866.1 267.8L866.7 275.1L867.3 283.1L867.9 293.2L868.5 304.3L869.1 314.5L869.7 324.2L870.3 331.9L870.9 340.7L871.5 338L872.1 328.5L872.7 317.8L873.3 307.8L873.9 298.2L874.5 290.5L875.1 284.8L875.7 280.6L876.3 277.6L876.9 275.4L877.5 274.9L878.1 277.2L878.7 281.8L879.3 290.1L879.9 302.4L880.5 314.2L881.1 326.2L881.7 339.8L882.3 354.1L882.9 368.1L883.5 381.7L884.1 392.4L884.7 399.9L885.3 403.8L885.9 403.9L886.5 403.7L887.1 395.5L887.7 378.1L888.3 350.6L888.9 337.2L889.5 316.9L890.1 292.4L890.7 273.3L891.3 261.4L891.9 252L892.5 248.3L893.1 245.4L893.7 243.9L894.3 245.2L894.9 248L895.5 252.1L896.1 257.5L896.7 263.6L897.3 268.6L897.9 273.4L898.5 278.1L899.1 282.7L899.7 287.2L900.3 291.4L900.9 295.6L901.5 297.6L902.1 298.7L902.7 297.4L903.3 292.5L903.9 287.3L904.5 279L905.1 270.9L905.7 263.9L906.3 258.1L906.9 253.7L907.5 252.3L908.1 251.5L908.7 252.3L909.3 256L909.9 260.3L910.5 264.3L911.1 268.6L911.7 273.1L912.3 275.9L912.9 278.2L913.5 280.7L914.1 282.6L914.7 283.5L915.3 284.1L915.9 284.6L916.5 284.2L917.1 282.1L917.7 279L918.3 274L918.9 267.4L919.5 261.4L920.1 256L920.7 251.3L921.3 247.1L921.9 243.9L922.5 242.5L923.1 241.5L923.7 240.8L924.3 243L924.9 247.4L925.5 252.3L926.1 258.1L926.7 265.4L927.3 271.3L927.9 276.7L928.5 282.2L929.1 287.2L929.7 290.7L930.3 293.6L930.9 296.3L931.5 298.5L932.1 299.9L932.7 301L933.3 299.7L933.9 294.9L934.5 289.7L935.1 282.3L935.7 274.9L936.3 270.7L936.9 268.4L937.5 267.2L938.1 268.7L938.7 272.6L939.3 280.9L939.9 293.8L940.5 307.6L941.1 321.8L941.7 335.7L942.3 349L942.9 361.4L943.5 373.1L944.1 383.4L944.7 390.1L945.3 395.3L945.9 396.6L946.5 396.7L947.1 394.8L947.7 384.1L948.3 366.1L948.9 347.4L949.5 339.9L950.1 327.4L950.7 308.3L951.3 295.5L951.9 287.5L952.5 281.2L953.1 279.1L953.7 280.5L954.3 285.4L954.9 292.5L955.5 300L956.1 305.4L956.7 310.1L957.3 314.8L957.9 319.3L958.5 323.3L959.1 327.1L959.7 330.7L960.3 334.1L960.9 336.7L961.5 338.8L962.1 340.8L962.7 342.7L963.3 342.9L963.9 341.2L964.5 339.4L965.1 337.4L965.7 335.3L966.3 332.9L966.9 331.4L967.5 332.5L968.1 335.5L968.7 340.4L969.3 350.3L969.9 359.5L970.5 368.8L971.1 380.1L971.7 397.6L972.3 415.1L972.9 431.2L973.5 449.8L974.1 456.3L974.7 458.4L975.3 458.9L975.9 458.9L976.5 458.9L977.1 458.3L977.7 457.1L978.3 453.6L978.9 443.9L979.5 420.1L980.1 377.8L980.7 339L981.3 318.1L981.9 299.6L982.5 289.7L983.1 282.4L983.7 279.3L984.3 278.9L984.9 281.2L985.5 286.6L986.1 294.7L986.7 307.3L987.3 316.5L987.9 326.8L988.5 335.1L989.1 340.7L989.7 346.6L990.3 351.6L990.9 355.5L991.5 359.1L992.1 362.6L992.7 365.6L993.3 367.9L993.9 370.2L994.5 371.4L995.1 370.5L995.7 369L996.3 368.5L996.9 371.1L997.5 375.3L998.1 383.8L998.7 396.9L999.3 408.3L999.9 418L1000.5 429.8L1001.1 440L1001.7 449.8L1002.3 455.7L1002.9 458.6L1003.5 460.6L1004.1 461.3L1004.7 461.4L1005.3 461.4L1005.9 461.4L1006.5 460.5L1007.1 458.6L1007.7 455.8L1008.3 449.6L1008.9 431.7L1009.5 416.1L1009.5 454.0Z" fill="#f79646"/>
<path d="M87.5 454L87.5 421.4L88.1 421.8L88.7 422L89.3 422.1L89.9 422.1L90.5 422L91.1 421.3L91.7 420.4L92.3 419.3L92.9 418.1L93.5 416.3L94.1 414L94.7 411.6L95.3 409.1L95.9 406L96.5 402.8L97.1 400L97.7 397.2L98.3 395.6L98.9 396.7L99.5 399.6L100.1 402.5L100.7 404.6L101.2 407.2L101.8 413.4L102.4 421.5L103 425.7L103.6 428.7L104.2 432L104.8 437.6L105.4 444.1L106 446.9L106.6 447.9L107.2 448.1L107.8 446L108.4 442.1L109 432.6L109.6 420L110.2 411.6L110.8 406.8L111.4 403L112 400.4L112.6 398.7L113.2 397.6L113.8 398.3L114.4 401L115 404.4L115.6 407.8L116.2 412L116.8 415.9L117.4 418.5L118 420.5L118.6 422L119.2 423.2L119.8 424.3L120.3 425L120.9 425L121.5 423.9L122.1 422.4L122.7 421.2L123.3 420L123.9 418.9L124.5 418.2L125.1 417.9L125.7 417.8L126.3 417.6L126.9 417.4L127.5 417.1L128.1 417.6L128.7 419.1L129.3 421L129.9 423L130.5 425.5L131.1 428.4L131.7 432L132.3 437.4L132.9 443L133.5 447.3L134.1 450.9L134.7 454L134.7 454.0" fill="#55a84f" stroke="#1e3a1c" stroke-width="1" stroke-linejoin="round"/>
<path d="M140.9 454L140.9 454L141.5 448.7L142.2 445.3L142.8 443.6L143.4 442.7L144 444.1L144.6 447.2L145.2 449.5L145.8 451.3L146.4 451.7L147 451.9L147.6 452L148.2 451.9L148.8 451.8L149.4 451.6L150 451L150.6 448.6L151.2 446L151.8 444.2L152.5 442.7L153.1 441.6L153.7 441.1L154.3 440.7L154.9 440.4L155.5 440L156.1 439.3L156.7 438.7L157.3 438.1L157.9 437.7L158.5 437.3L159.1 437.2L159.7 437.9L160.3 439.2L160.9 442.1L161.5 446L162.2 449.8L162.8 454L162.8 454.0" fill="#55a84f" stroke="#1e3a1c" stroke-width="1" stroke-linejoin="round"/>
<path d="M169.8 454L169.8 454L170.4 446.1L171 441.3L171.6 438L172.2 436.4L172.9 436.9L173.5 438.1L174.1 440.1L174.7 443.9L175.3 447.8L175.9 451L176.6 454L176.6 454.0" fill="#55a84f" stroke="#1e3a1c" stroke-width="1" stroke-linejoin="round"/>
<path d="M183.8 454L183.8 454L184.4 448.4L185 442.9L185.6 437.4L186.2 432L186.8 426.7L187.4 421.8L188 416.6L188.7 412L189.3 409.7L189.9 408.5L190.5 408.1L191.1 409L191.7 410.9L192.3 413.6L192.9 419.5L193.5 426.5L194.1 434.1L194.7 441.2L195.3 445.9L195.9 449.8L196.5 451.7L197.1 452.6L197.7 452.2L198.3 449.4L198.9 446.1L199.5 441.8L200.1 437.7L200.7 435.1L201.3 432.8L201.9 431.5L202.5 431.9L203.1 434.1L203.7 436.9L204.3 441L204.9 445.5L205.5 449.8L206.1 454L206.1 454.0" fill="#55a84f" stroke="#1e3a1c" stroke-width="1" stroke-linejoin="round"/>
<path d="M211.2 454L211.2 454L211.8 451.1L212.4 448.5L213 446.3L213.6 444.7L214.2 443.5L214.8 442.1L215.4 440.4L216 437.4L216.6 433.2L217.2 429L217.8 425.8L218.4 422.7L219 421.4L219.6 422.7L220.2 425.3L220.8 428.1L221.4 431.7L222 435.5L222.6 439.7L223.2 443.8L223.8 447L224.4 449.6L225 451.6L225.6 453L226.2 454L226.2 454.0" fill="#55a84f" stroke="#1e3a1c" stroke-width="1" stroke-linejoin="round"/>
<path d="M231 454L231 454L231.6 452.4L232.2 449.1L232.8 448.1L233.4 447.8L233.9 447.7L234.5 448.4L235.1 451.6L235.7 453L236.3 453.4L236.9 453.4L237.5 452.4L238.1 451.3L238.7 450.1L239.3 448.9L239.9 447.8L240.5 447.1L241.1 446.5L241.7 445.8L242.3 444.7L242.9 443.1L243.5 441.5L244.1 439.7L244.7 437.6L245.3 436.1L245.9 435.3L246.5 434.8L247.1 434.7L247.6 437.5L248.2 441.8L248.8 446.9L249.4 451.1L250 454L250 454.0" fill="#55a84f" stroke="#1e3a1c" stroke-width="1" stroke-linejoin="round"/>
<path d="M259.1 454L259.1 454L259.7 443.8L260.3 434.4L260.9 425.6L261.5 416.9L262.1 409.4L262.7 404.1L263.3 400L263.9 397L264.5 396.5L265.1 398.5L265.7 400.8L266.3 401.2L267 400.3L267.6 399.2L268.2 398.8L268.8 399.1L269.4 399.7L270 400.4L270.6 401.3L271.2 402.5L271.8 403.1L272.4 402.3L273 400.4L273.6 398.8L274.2 397.5L274.8 396.3L275.5 395.6L276.1 396.3L276.7 399L277.3 403.3L277.9 410.1L278.5 416.2L279.1 422L279.7 428.2L280.3 436.1L280.9 445.3L281.5 451.2L282.1 454L282.1 454.0" fill="#55a84f" stroke="#1e3a1c" stroke-width="1" stroke-linejoin="round"/>
<path d="M289.7 454L289.7 454L290.3 442L290.9 430.5L291.5 419.5L292.1 408.2L292.7 400L293.3 394.7L293.9 391L294.5 391L295.1 393.7L295.7 396.3L296.3 398L296.9 399.5L297.5 400.9L298.1 402.2L298.7 403.5L299.3 404.8L299.9 406.5L300.5 408.5L301.1 409.6L301.7 409.4L302.3 408.7L302.9 407.9L303.5 407.2L304.1 406.4L304.7 405.5L305.3 404.1L305.9 402.3L306.5 402.7L307.1 405.7L307.8 409.4L308.4 414.3L309 420.1L309.6 427.2L310.2 434.6L310.8 441.2L311.4 447.7L312 454L312 454.0" fill="#55a84f" stroke="#1e3a1c" stroke-width="1" stroke-linejoin="round"/>
<path d="M319 454L319 454L319.6 444.9L320.2 435.9L320.8 425.9L321.4 416.2L322 410.7L322.6 406.9L323.2 405.1L323.8 405.2L324.4 405.4L325 406L325.6 408.1L326.2 410L326.8 411.1L327.4 412L328 412L328.6 411.4L329.3 410.5L329.9 409.6L330.5 408.3L331.1 407L331.7 406.2L332.3 405.6L332.9 405.2L333.5 405.1L334.1 405.1L334.7 405.1L335.3 405.1L335.9 404.9L336.5 404.6L337.1 405.3L337.7 409.3L338.3 414.3L338.9 420.8L339.5 428.5L340.1 437.3L340.7 445.7L341.3 454L341.3 454.0" fill="#55a84f" stroke="#1e3a1c" stroke-width="1" stroke-linejoin="round"/>
<path d="M349.6 454L349.6 454L350.2 445.2L350.8 438.2L351.4 431.9L352 428.1L352.6 427.2L353.2 426.7L353.8 426.8L354.4 428.3L355 430.2L355.6 431.8L356.2 433.5L356.9 434.9L357.5 435.9L358.1 436.6L358.7 437.2L359.3 438L359.9 438.9L360.5 439.6L361.1 440L361.7 440.3L362.3 440.4L362.9 440.1L363.5 437.8L364.1 435L364.7 433.4L365.3 432.2L365.9 431.7L366.5 432.9L367.1 435.4L367.7 439.1L368.3 443.8L368.9 448.6L369.6 452.6L370.2 454L370.2 454.0" fill="#55a84f" stroke="#1e3a1c" stroke-width="1" stroke-linejoin="round"/>
<path d="M380.2 454L380.2 454L380.8 442L381.4 431.4L382 421.5L382.6 413.8L383.2 410.2L383.8 407.8L384.4 406L385 404.8L385.6 403.8L386.2 403.1L386.7 402.8L387.3 402.9L387.9 403L388.5 403.2L389.1 403.4L389.7 404.1L390.3 404.9L390.9 405.3L391.5 404.7L392.1 403.1L392.7 401.6L393.3 400.5L393.9 399.4L394.5 398.3L395.1 396.6L395.7 395L396.3 395.3L396.9 398.1L397.5 402.1L398.1 408.1L398.7 415.1L399.3 423.7L399.9 432L400.5 439.7L401.1 446.3L401.7 450.9L402.3 454L402.3 454.0" fill="#55a84f" stroke="#1e3a1c" stroke-width="1" stroke-linejoin="round"/>
<path d="M408.3 454L408.3 454L408.9 447.8L409.5 441.1L410.1 433L410.7 424.5L411.3 418L411.9 412.9L412.5 409.4L413.1 406.8L413.7 407.8L414.3 411.5L414.9 414.3L415.5 416.9L416.1 418.6L416.7 419.9L417.3 421L417.9 421.7L418.5 422.2L419.1 422.7L419.7 422.9L420.3 422.6L420.9 421.7L421.5 420.9L422.1 420.6L422.7 420.3L423.3 419.9L423.9 419L424.5 417.5L425.1 415.7L425.7 413.1L426.3 412.7L426.9 416.5L427.5 421.4L428.1 427.9L428.7 434.1L429.3 440.4L429.9 445.9L430.5 450.3L431.1 454L431.1 454.0" fill="#55a84f" stroke="#1e3a1c" stroke-width="1" stroke-linejoin="round"/>
<path d="M438.9 454L438.9 454L439.5 447.1L440.1 441L440.7 435L441.3 430.8L441.9 429L442.5 428.4L443.1 430.1L443.7 433.2L444.3 439.3L444.9 445.5L445.5 449.4L446.1 452.3L446.7 453.3L447.3 453.7L447.9 452.6L448.5 450.1L449.1 447.4L449.7 444.3L450.3 441L450.9 437.6L451.5 434L452.1 430.2L452.7 426.6L453.3 422.9L453.9 419.1L454.5 415.8L455.1 413.4L455.7 411.5L456.3 410.1L456.9 410L457.5 411.4L458.1 414L458.7 420.2L459.3 426.9L459.9 433.3L460.5 439.4L461.1 444.6L461.7 449.3L462.3 452.7L462.9 454L462.9 454.0" fill="#55a84f" stroke="#1e3a1c" stroke-width="1" stroke-linejoin="round"/>
<path d="M468.7 454L468.7 454L469.3 444.7L469.9 436.3L470.5 428.1L471.1 420.7L471.7 416.9L472.3 414.7L472.9 413.6L473.5 413.8L474.1 414.6L474.6 415.9L475.2 419.1L475.8 421.9L476.4 424.2L477 424.6L477.6 424L478.2 423.2L478.8 422.6L479.4 422.1L480 421.6L480.6 421L481.2 420.3L481.8 419.4L482.4 418.2L483 416L483.5 412.3L484.1 408.5L484.7 405.3L485.3 402.1L485.9 400.4L486.5 401L487.1 403.3L487.7 406.5L488.3 412.5L488.9 419L489.5 424.9L490.1 430.8L490.7 436.8L491.3 443.6L491.9 449.3L492.4 452.4L493 454L493 454.0" fill="#55a84f" stroke="#1e3a1c" stroke-width="1" stroke-linejoin="round"/>
<path d="M498.1 454L498.1 454L498.7 444.9L499.2 436.3L499.8 427.4L500.4 418.6L501 413L501.6 410.7L502.2 408.9L502.8 407.9L503.4 407.9L504 408.4L504.6 409.1L505.2 411.3L505.8 414.4L506.4 416.1L507 417.3L507.6 417.9L508.2 417.4L508.8 416.6L509.4 415.8L510 415.5L510.5 415.2L511.1 414.8L511.7 414.1L512.3 413.1L512.9 412L513.5 410.5L514.1 408.3L514.7 406.3L515.3 405L515.9 403.9L516.5 403.2L517.1 402.8L517.7 403.8L518.3 406.2L518.9 409.6L519.5 415.8L520.1 422.5L520.7 429.6L521.3 436.6L521.9 443.3L522.4 449.3L523 452.4L523.6 454L523.6 454.0" fill="#55a84f" stroke="#1e3a1c" stroke-width="1" stroke-linejoin="round"/>
<path d="M528.7 454L528.7 454L529.2 447.7L529.8 441.1L530.4 433.4L531 425.8L531.6 421.9L532.2 419.5L532.8 418.1L533.4 417.9L534 418.4L534.6 419.1L535.2 420.3L535.8 422.1L536.4 423.3L537 424.3L537.6 425.1L538.2 425.4L538.8 424.9L539.4 423.9L540 423L540.6 422.7L541.2 422.4L541.8 422.2L542.4 422.1L543 422.3L543.6 422.6L544.2 422.9L544.8 422.8L545.4 422.2L546 421.6L546.6 421.4L547.2 421.7L547.8 422.3L548.4 423.2L549 425.8L549.6 429.4L550.1 433.1L550.7 437.2L551.3 441.3L551.9 445.6L552.5 449.5L553.1 452.2L553.7 454L553.7 454.0" fill="#55a84f" stroke="#1e3a1c" stroke-width="1" stroke-linejoin="round"/>
<path d="M561.3 454L561.3 454L561.9 450L562.4 447.2L563 444.8L563.6 443.5L564.2 443.8L564.8 444.8L565.4 445.6L566 446.3L566.6 446.7L567.2 446.2L567.8 444.4L568.4 442.6L569 440.9L569.6 439L570.2 437.2L570.8 435.4L571.4 433.5L572 431.6L572.6 429.8L573.2 428.2L573.8 426.8L574.4 425.5L575 424.5L575.6 423.9L576.2 423.3L576.8 422.9L577.4 423L578 423.6L578.6 424.7L579.1 426.9L579.7 430L580.3 434.3L580.9 439.8L581.5 444.6L582.1 449.3L582.7 452.7L583.3 454L583.3 454.0" fill="#55a84f" stroke="#1e3a1c" stroke-width="1" stroke-linejoin="round"/>
<path d="M590.1 454L590.1 454L590.7 449.2L591.3 443.6L591.9 436.3L592.5 429L593.1 424.6L593.7 421.3L594.3 420.4L594.9 421.6L595.4 422.8L596 422.2L596.6 419.8L597.2 417.5L597.8 415.6L598.4 413.8L599 412.6L599.6 412L600.2 411.4L600.8 410.9L601.4 410.3L602 409.6L602.6 408.7L603.2 407.8L603.8 406.8L604.4 405.6L605 404.1L605.6 403L606.2 403.3L606.7 407L607.3 412.1L607.9 419.2L608.5 427.1L609.1 435.9L609.7 443.6L610.3 449.5L610.9 454L610.9 454.0" fill="#55a84f" stroke="#1e3a1c" stroke-width="1" stroke-linejoin="round"/>
<path d="M620.2 454L620.2 454L620.8 442.6L621.4 432.3L622 422.7L622.6 417.9L623.1 415L623.7 414.8L624.3 415.8L624.9 417.3L625.5 419.9L626.1 422.6L626.7 424.5L627.3 426.2L627.9 426.6L628.5 426.1L629.1 425.2L629.7 424.2L630.3 423.3L630.8 422.3L631.4 421.1L632 419.5L632.6 417.5L633.2 415.1L633.8 412.5L634.4 409.2L635 406.1L635.6 404.5L636.2 403.3L636.8 402.8L637.4 406.6L638 412.4L638.5 419.5L639.1 427.3L639.7 436.1L640.3 443.7L640.9 449.5L641.5 454L641.5 454.0" fill="#55a84f" stroke="#1e3a1c" stroke-width="1" stroke-linejoin="round"/>
<path d="M649.5 454L649.5 454L650.1 445L650.7 436.2L651.3 426.8L651.9 418.7L652.5 414.3L653.1 411.1L653.7 410.4L654.3 410.9L654.9 411.9L655.5 413.9L656.1 416.5L656.7 418.4L657.3 420L657.9 421.2L658.5 421.8L659.2 422.1L659.8 422.3L660.4 422.4L661 422.3L661.6 422.1L662.2 421.7L662.8 421.2L663.4 420.4L664 419.3L664.6 417.9L665.2 416.1L665.8 414.3L666.4 412.6L667 411.2L667.6 411.3L668.2 414.9L668.8 419L669.4 423.3L670 427.7L670.6 432.1L671.2 436.7L671.8 441L672.4 444.5L673 447.7L673.6 450.3L674.2 451.9L674.8 452.8L675.4 453.5L676 453.7L676.6 452.8L677.2 451.1L677.8 447.8L678.4 442.8L679 438.5L679.6 434.5L680.2 431.2L680.8 428.3L681.4 426L682 424.5L682.6 423.5L683.2 423.6L683.8 424.8L684.4 426.5L685 428.2L685.6 429.9L686.2 431.7L686.8 433.4L687.4 435.4L688 437.1L688.6 437.4L689.2 437L689.8 436.3L690.4 435.4L691 434L691.6 432.1L692.2 430L692.8 428.1L693.4 426.7L694 425.4L694.6 424.2L695.2 423.2L695.8 422.2L696.4 421.2L697 420.5L697.6 420.4L698.2 421L698.8 422.1L699.4 423.7L700 427L700.6 431L701.2 434.8L701.8 438.8L702.4 442.6L703 446L703.7 449.1L704.3 451.7L704.9 453.3L705.5 454L705.5 454.0" fill="#55a84f" stroke="#1e3a1c" stroke-width="1" stroke-linejoin="round"/>
<path d="M710 454L710 454L710.6 447.2L711.2 440.7L711.8 434.1L712.4 429.2L713 425.4L713.6 424.1L714.2 424.4L714.8 424.8L715.4 425.4L716 426L716.6 426.8L717.3 427.5L717.9 427.9L718.5 427.7L719.1 427.2L719.7 426.4L720.3 425.6L720.9 425L721.5 424.5L722.1 423.9L722.7 423.3L723.3 422.4L723.9 421.1L724.5 419.6L725.1 418.4L725.8 417.6L726.4 417.1L727 416.7L727.6 416.6L728.2 418.4L728.8 422.1L729.4 426.2L730 431.1L730.6 436.7L731.2 442.1L731.8 448.1L732.4 452.6L733 454L733 454.0" fill="#55a84f" stroke="#1e3a1c" stroke-width="1" stroke-linejoin="round"/>
<path d="M740.6 454L740.6 454L741.2 445.3L741.8 438.5L742.3 432.8L742.9 428.6L743.5 425.7L744.1 423.5L744.7 422.9L745.3 423.7L745.9 425L746.5 426.7L747.1 428.9L747.7 430.7L748.3 432L748.9 433.1L749.5 434L750.1 434.8L750.7 435.6L751.3 436.3L751.9 437L752.5 438L753.1 438.9L753.6 439.2L754.2 439.1L754.8 438.8L755.4 438.7L756 439L756.6 440.2L757.2 441.9L757.8 443.5L758.4 445.3L759 447.3L759.6 449.1L760.2 450.8L760.8 452.4L761.4 454L761.4 454.0" fill="#55a84f" stroke="#1e3a1c" stroke-width="1" stroke-linejoin="round"/>
<path d="M771.9 454L771.9 454L772.5 442.8L773.1 435L773.7 429.3L774.3 426.3L774.9 424.4L775.5 424.2L776.1 424.5L776.7 424.8L777.2 424.8L777.8 424.5L778.4 424L779 423.6L779.6 423.1L780.2 422.6L780.8 422.2L781.4 422.2L782 422.4L782.6 422.7L783.2 422.9L783.8 422.8L784.4 422.6L785 422.4L785.5 422.5L786.1 422.9L786.7 423.8L787.3 425.3L787.9 428.6L788.5 432.5L789.1 437.4L789.7 442.3L790.3 447.4L790.9 451.4L791.5 454L791.5 454.0" fill="#55a84f" stroke="#1e3a1c" stroke-width="1" stroke-linejoin="round"/>
<path d="M800.8 454L800.8 454L801.4 445.6L802 437.7L802.6 429.5L803.2 424.4L803.8 421.3L804.4 420.4L805 421.3L805.6 422.3L806.2 422.3L806.8 422.1L807.4 421.8L808 421.5L808.6 421L809.2 420.4L809.8 419.8L810.4 419.3L811.1 418.8L811.7 418.1L812.3 416.8L812.9 414.6L813.5 411.9L814.1 408.7L814.7 404.5L815.3 400.3L815.9 396.2L816.5 392.8L817.1 393.5L817.7 399.4L818.3 406.9L818.9 416.1L819.5 424.9L820.1 433.4L820.8 440.5L821.4 446.9L822 451.3L822.6 454L822.6 454.0" fill="#55a84f" stroke="#1e3a1c" stroke-width="1" stroke-linejoin="round"/>
<path d="M829.6 454L829.6 454L830.2 442.8L830.8 431.5L831.4 419.1L832 411.5L832.6 407.2L833.2 405.9L833.8 407.2L834.4 408.8L835 409.3L835.6 409.5L836.2 409.8L836.8 410.5L837.4 412.2L838 413.9L838.6 415.6L839.2 417.4L839.8 418.8L840.5 419.3L841.1 419.6L841.7 419.8L842.3 419.8L842.9 419.1L843.5 417.8L844.1 416L844.7 412.8L845.3 409.7L845.9 406.8L846.5 404.9L847.1 405.7L847.7 409L848.3 414L848.9 422.1L849.5 429.6L850.1 436.9L850.7 443.4L851.3 449.1L851.9 454L851.9 454.0" fill="#55a84f" stroke="#1e3a1c" stroke-width="1" stroke-linejoin="round"/>
<path d="M859.2 454L859.2 454L859.8 442.9L860.4 431.7L861 419.5L861.6 411.7L862.2 407.4L862.8 405.9L863.4 407.4L864 410.4L864.6 416.6L865.2 424.8L865.8 432.3L866.4 439.6L866.9 444.8L867.5 448.9L868.1 451.6L868.7 452.6L869.3 452.9L869.9 451.7L870.5 449.8L871.1 448.1L871.7 446.5L872.3 444.6L872.9 442L873.5 438.4L874.1 433.9L874.7 428.4L875.3 421.9L875.9 416.5L876.5 411.6L877.1 408.2L877.7 407.1L878.3 406.6L878.9 407.1L879.5 409.2L880.1 412.7L880.7 419.2L881.3 426L881.9 433.5L882.5 440.3L883.1 446.9L883.7 451.4L884.3 454L884.3 454.0" fill="#55a84f" stroke="#1e3a1c" stroke-width="1" stroke-linejoin="round"/>
<path d="M888.3 454L888.3 454L888.9 446.1L889.5 437.3L890.1 427L890.7 418.6L891.3 412L891.9 407.3L892.5 404.9L893.1 403.3L893.7 402.9L894.3 404.6L894.9 406.9L895.5 409.6L896.1 412.2L896.7 414.2L897.3 416L897.9 416.6L898.5 415.7L899.1 414.2L899.7 413.2L900.3 412.6L900.9 412.1L901.5 411.6L902.1 411.3L902.7 411L903.3 410.6L903.9 409.5L904.5 406.9L905.1 403.4L905.7 398.7L906.3 395.4L906.9 393.4L907.5 393.6L908.1 394.4L908.7 394.9L909.3 395.1L909.9 395.3L910.5 395.3L911.1 395.1L911.7 394.8L912.4 395L913 396.8L913.6 398.9L914.2 400.6L914.8 402.1L915.4 402.8L916 402.8L916.6 402.6L917.2 402.4L917.8 402.2L918.4 402L919 401.7L919.6 401.5L920.2 401.2L920.8 400.8L921.4 400.3L922 399L922.6 397.2L923.2 396L923.8 394.9L924.4 394.1L925 394.3L925.6 395.9L926.2 398L926.8 401.5L927.4 405.3L928 408.2L928.6 410.6L929.2 412.5L929.8 414.3L930.4 415.4L931 415.9L931.6 416.4L932.2 416.6L932.8 416.4L933.4 415.7L934 414.4L934.6 412.3L935.2 408.8L935.8 406L936.4 403.6L937 404L937.6 406.6L938.2 407.6L938.8 407.9L939.4 408.3L940 411.8L940.6 417.1L941.2 423.2L941.8 429.4L942.4 435.8L943 441.2L943.6 445.8L944.3 449.5L944.9 452.1L945.5 454L945.5 454.0" fill="#55a84f" stroke="#1e3a1c" stroke-width="1" stroke-linejoin="round"/>
<path d="M948 454L948 454L948.6 447.3L949.2 440.9L949.8 434.5L950.4 428.8L950.9 424.3L951.5 420.5L952.1 418.9L952.7 418.4L953.3 419.4L953.9 423.6L954.5 426.7L955.1 429L955.7 431.4L956.3 434.1L956.9 436.4L957.5 438.4L958.1 439.2L958.7 438.3L959.3 437L959.9 436.1L960.5 435.4L961.1 434.7L961.7 433.9L962.3 432.8L962.9 431.6L963.5 430.5L964.1 429.3L964.7 428.3L965.3 427.1L965.9 425.8L966.5 424.1L967.1 423.4L967.7 423.9L968.3 424.9L968.9 426.3L969.5 428.8L970.1 432.2L970.7 437.2L971.2 442.2L971.8 447.3L972.4 451.3L973 454L973 454.0" fill="#55a84f" stroke="#1e3a1c" stroke-width="1" stroke-linejoin="round"/>
<path d="M979.6 454L979.6 454L980.2 446.5L980.7 437.5L981.3 426.7L981.9 417.7L982.5 410.2L983.1 406.4L983.7 403.9L984.3 402.8L984.9 403.8L985.5 406.1L986.1 409.1L986.6 413.6L987.2 420.6L987.8 431L988.4 440.8L989 449.6L989.6 454L989.6 454.0" fill="#55a84f" stroke="#1e3a1c" stroke-width="1" stroke-linejoin="round"/>
<path d="M87.6 454.1H1009.5" stroke="#bf3a2b" stroke-width="1.45" fill="none"/>
<g stroke="#868686" stroke-width="1.6" fill="none">
<path d="M87.6 43V620.5" stroke-width="1.3"/>
<path d="M1009.5 43V200"/>
<path d="M82 536.2H87.6"/>
<path d="M82 495.1H87.6"/>
<path d="M82 454.0H87.6"/>
<path d="M82 412.9H87.6"/>
<path d="M82 371.8H87.6"/>
<path d="M82 330.8H87.6"/>
<path d="M82 289.7H87.6"/>
<path d="M82 248.6H87.6"/>
<path d="M82 207.5H87.6"/>
<path d="M82 166.4H87.6"/>
<path d="M82 125.4H87.6"/>
<path d="M86 84.3H87.6"/>
<path d="M86 43.2H87.6"/>
<path d="M1009.5 43.2H1015"/>
<path d="M1009.5 92.5H1015"/>
<path d="M1009.5 141.8H1015"/>
<path d="M1009.5 191.1H1015"/>
</g>
<path d="M1009.5 200V577" stroke="#bcbcbc" stroke-width="1.2" fill="none"/>
<path d="M1009.5 577V620.5" stroke="#999" stroke-width="1.7" fill="none"/>
<rect x="48.8" y="6.4" width="11.4" height="11.6" fill="#993300"/>
<text transform="skewX(0.03)" y="18.85" font-family="'Liberation Sans', sans-serif" font-size="18.90" font-weight="bold" fill="#000" xml:space="preserve"><tspan x="65.84" textLength="42.20" lengthAdjust="spacingAndGlyphs" stroke="#000" stroke-width="0.27" stroke-linejoin="round">Load</tspan></text>
<rect x="146" y="6.4" width="11.5" height="11.6" fill="#ff0000"/>
<text transform="skewX(0.03)" y="18.85" font-family="'Liberation Sans', sans-serif" font-size="18.90" font-weight="bold" fill="#000" xml:space="preserve"><tspan x="162.59" textLength="50.78" lengthAdjust="spacingAndGlyphs" stroke="#000" stroke-width="0.22" stroke-linejoin="round">Netto</tspan> <tspan x="218.84" textLength="58.01" lengthAdjust="spacingAndGlyphs" stroke="#000" stroke-width="0.24" stroke-linejoin="round">Export</tspan></text>
<rect x="314.5" y="6.4" width="11.4" height="11.6" fill="#f79646"/>
<text transform="skewX(0.03)" y="18.85" font-family="'Liberation Sans', sans-serif" font-size="18.90" font-weight="bold" fill="#000" xml:space="preserve"><tspan x="331.19" textLength="106.12" lengthAdjust="spacingAndGlyphs" stroke="#000" stroke-width="0.26" stroke-linejoin="round">Residuallast</tspan>  <tspan x="447.84" textLength="10.27" lengthAdjust="spacingAndGlyphs" stroke="#000" stroke-width="0.28" stroke-linejoin="round">=</tspan>  <tspan x="467.84" textLength="35.30" lengthAdjust="spacingAndGlyphs" stroke="#000" stroke-width="0.29" stroke-linejoin="round">Last</tspan> <tspan x="508.84" textLength="6.43" lengthAdjust="spacingAndGlyphs" stroke="#000" stroke-width="0.22" stroke-linejoin="round">-</tspan> <tspan x="520.39" textLength="47.11" lengthAdjust="spacingAndGlyphs" stroke="#000" stroke-width="0.22" stroke-linejoin="round">Wind</tspan> <tspan x="571.99" textLength="6.51" lengthAdjust="spacingAndGlyphs" stroke="#000" stroke-width="0.22" stroke-linejoin="round">-</tspan> <tspan x="583.59" textLength="44.42" lengthAdjust="spacingAndGlyphs" stroke="#000" stroke-width="0.27" stroke-linejoin="round">Solar</tspan></text>
<rect x="665.8" y="6.3" width="11.3" height="11.4" fill="#57c785"/>
<text transform="skewX(0.03)" y="18.85" font-family="'Liberation Sans', sans-serif" font-size="18.90" font-weight="bold" fill="#000" xml:space="preserve"><tspan x="682.59" textLength="50.78" lengthAdjust="spacingAndGlyphs" stroke="#000" stroke-width="0.22" stroke-linejoin="round">Netto</tspan> <tspan x="738.84" textLength="59.96" lengthAdjust="spacingAndGlyphs" stroke="#000" stroke-width="0.22" stroke-linejoin="round">Import</tspan></text>
<rect x="836.95" y="6.05" width="11.9" height="11.9" rx="0.9" fill="#fde2e2" stroke="#ff6a6a" stroke-width="1.3"/>
<text transform="skewX(0.03)" y="18.85" font-family="'Liberation Sans', sans-serif" font-size="18.90" font-weight="bold" fill="#000" xml:space="preserve"><tspan x="854.59" textLength="31.35" lengthAdjust="spacingAndGlyphs" stroke="#000" stroke-width="0.36" stroke-linejoin="round">EEX</tspan> <tspan x="892.04" textLength="43.13" lengthAdjust="spacingAndGlyphs" stroke="#000" stroke-width="0.22" stroke-linejoin="round">Wert</tspan> <tspan x="941.04" textLength="82.33" lengthAdjust="spacingAndGlyphs" stroke="#000" stroke-width="0.22" stroke-linejoin="round">[€/MWh]</tspan></text>
<text transform="skewX(0.03)" y="541.71" font-family="'Liberation Sans', sans-serif" font-size="15.30" font-weight="bold" fill="#ff0000" xml:space="preserve"><tspan x="45.92" textLength="24.97" lengthAdjust="spacingAndGlyphs" stroke="#ff0000" stroke-width="0.22" stroke-linejoin="round">-20</tspan></text>
<text transform="skewX(0.03)" y="500.63" font-family="'Liberation Sans', sans-serif" font-size="15.30" font-weight="bold" fill="#ff0000" xml:space="preserve"><tspan x="45.92" textLength="24.96" lengthAdjust="spacingAndGlyphs" stroke="#ff0000" stroke-width="0.22" stroke-linejoin="round">-10</tspan></text>
<text transform="skewX(0.03)" y="459.55" font-family="'Liberation Sans', sans-serif" font-size="15.30" font-weight="bold" fill="#000" xml:space="preserve"><tspan x="56.72" textLength="9.53" lengthAdjust="spacingAndGlyphs" stroke="#000" stroke-width="0.22" stroke-linejoin="round">0</tspan></text>
<text transform="skewX(0.03)" y="418.47" font-family="'Liberation Sans', sans-serif" font-size="15.30" font-weight="bold" fill="#000" xml:space="preserve"><tspan x="46.42" textLength="19.89" lengthAdjust="spacingAndGlyphs" stroke="#000" stroke-width="0.22" stroke-linejoin="round">10</tspan></text>
<text transform="skewX(0.03)" y="377.39" font-family="'Liberation Sans', sans-serif" font-size="15.30" font-weight="bold" fill="#000" xml:space="preserve"><tspan x="46.92" textLength="19.38" lengthAdjust="spacingAndGlyphs" stroke="#000" stroke-width="0.22" stroke-linejoin="round">20</tspan></text>
<text transform="skewX(0.03)" y="336.31" font-family="'Liberation Sans', sans-serif" font-size="15.30" font-weight="bold" fill="#000" xml:space="preserve"><tspan x="47.17" textLength="19.35" lengthAdjust="spacingAndGlyphs" stroke="#000" stroke-width="0.22" stroke-linejoin="round">30</tspan></text>
<text transform="skewX(0.03)" y="295.23" font-family="'Liberation Sans', sans-serif" font-size="15.30" font-weight="bold" fill="#000" xml:space="preserve"><tspan x="47.42" textLength="19.10" lengthAdjust="spacingAndGlyphs" stroke="#000" stroke-width="0.22" stroke-linejoin="round">40</tspan></text>
<text transform="skewX(0.03)" y="254.15" font-family="'Liberation Sans', sans-serif" font-size="15.30" font-weight="bold" fill="#000" xml:space="preserve"><tspan x="47.17" textLength="19.35" lengthAdjust="spacingAndGlyphs" stroke="#000" stroke-width="0.22" stroke-linejoin="round">50</tspan></text>
<text transform="skewX(0.03)" y="213.07" font-family="'Liberation Sans', sans-serif" font-size="15.30" font-weight="bold" fill="#000" xml:space="preserve"><tspan x="47.17" textLength="19.35" lengthAdjust="spacingAndGlyphs" stroke="#000" stroke-width="0.22" stroke-linejoin="round">60</tspan></text>
<text transform="skewX(0.03)" y="171.99" font-family="'Liberation Sans', sans-serif" font-size="15.30" font-weight="bold" fill="#000" xml:space="preserve"><tspan x="46.92" textLength="19.62" lengthAdjust="spacingAndGlyphs" stroke="#000" stroke-width="0.22" stroke-linejoin="round">70</tspan></text>
<text transform="skewX(0.03)" y="130.91" font-family="'Liberation Sans', sans-serif" font-size="15.30" font-weight="bold" fill="#000" xml:space="preserve"><tspan x="47.17" textLength="19.35" lengthAdjust="spacingAndGlyphs" stroke="#000" stroke-width="0.22" stroke-linejoin="round">80</tspan></text>
<text transform="skewX(0.03)" y="47.49" font-family="'Liberation Sans', sans-serif" font-size="14.30" font-weight="bold" fill="#000" xml:space="preserve"><tspan x="1024.33" textLength="24.72" lengthAdjust="spacingAndGlyphs" stroke="#000" stroke-width="0.22" stroke-linejoin="round">500</tspan></text>
<text transform="skewX(0.03)" y="96.79" font-family="'Liberation Sans', sans-serif" font-size="14.30" font-weight="bold" fill="#000" xml:space="preserve"><tspan x="1024.58" textLength="24.46" lengthAdjust="spacingAndGlyphs" stroke="#000" stroke-width="0.22" stroke-linejoin="round">300</tspan></text>
<text transform="skewX(0.03)" y="146.09" font-family="'Liberation Sans', sans-serif" font-size="14.30" font-weight="bold" fill="#000" xml:space="preserve"><tspan x="1023.83" textLength="25.24" lengthAdjust="spacingAndGlyphs" stroke="#000" stroke-width="0.22" stroke-linejoin="round">100</tspan></text>
<text transform="skewX(0.03)" y="195.39" font-family="'Liberation Sans', sans-serif" font-size="14.30" font-weight="bold" fill="#ff0000" xml:space="preserve"><tspan x="1024.33" textLength="29.32" lengthAdjust="spacingAndGlyphs" stroke="#ff0000" stroke-width="0.22" stroke-linejoin="round">-100</tspan></text>
<text transform="translate(23.20 0) rotate(-90) skewX(0.03)" y="0" font-family="'Liberation Sans', sans-serif" font-size="19.30" font-weight="bold" fill="#000" xml:space="preserve"><tspan x="-349.36" textLength="24.56" lengthAdjust="spacingAndGlyphs" stroke="#000" stroke-width="0.26" stroke-linejoin="round">[P]</tspan>  <tspan x="-314.96" textLength="8.80" lengthAdjust="spacingAndGlyphs" stroke="#000" stroke-width="0.40" stroke-linejoin="round">=</tspan>  <tspan x="-294.61" textLength="31.17" lengthAdjust="spacingAndGlyphs" stroke="#000" stroke-width="0.27" stroke-linejoin="round">GW</tspan></text>
<text transform="translate(1046.20 0) rotate(-90) skewX(0.03)" y="0" font-family="'Liberation Sans', sans-serif" font-size="17.00" font-weight="bold" fill="#000" xml:space="preserve"><tspan x="-530.05" textLength="5.90" lengthAdjust="spacingAndGlyphs" stroke="#000" stroke-width="0.22" stroke-linejoin="round">[</tspan> <tspan x="-519.80" textLength="30.78" lengthAdjust="spacingAndGlyphs" stroke="#000" stroke-width="0.22" stroke-linejoin="round">day</tspan> <tspan x="-485.65" textLength="45.10" lengthAdjust="spacingAndGlyphs" stroke="#000" stroke-width="0.29" stroke-linejoin="round">ahead</tspan> <tspan x="-436.05" textLength="91.54" lengthAdjust="spacingAndGlyphs" stroke="#000" stroke-width="0.24" stroke-linejoin="round">Börsenwert</tspan> <tspan x="-340.10" textLength="5.64" lengthAdjust="spacingAndGlyphs" stroke="#000" stroke-width="0.22" stroke-linejoin="round">]</tspan>  <tspan x="-326.15" textLength="7.63" lengthAdjust="spacingAndGlyphs" stroke="#000" stroke-width="0.41" stroke-linejoin="round">=</tspan>  <tspan x="-307.10" textLength="58.80" lengthAdjust="spacingAndGlyphs" stroke="#000" stroke-width="0.22" stroke-linejoin="round">€/MWh</tspan></text>
<text transform="translate(94.20 0) rotate(-90) skewX(0.03)" y="0" font-family="'Liberation Sans', sans-serif" font-size="13.80" font-weight="normal" fill="#000" xml:space="preserve"><tspan x="-579.25" textLength="32.58" lengthAdjust="spacingAndGlyphs" stroke="#000" stroke-width="0.60" stroke-linejoin="round">Fr 01</tspan></text>
<text transform="translate(124.22 0) rotate(-90) skewX(0.03)" y="0" font-family="'Liberation Sans', sans-serif" font-size="13.80" font-weight="normal" fill="#000" xml:space="preserve"><tspan x="-581.40" textLength="34.73" lengthAdjust="spacingAndGlyphs" stroke="#000" stroke-width="0.60" stroke-linejoin="round">Sa 02</tspan></text>
<text transform="translate(154.24 0) rotate(-90) skewX(0.03)" y="0" font-family="'Liberation Sans', sans-serif" font-size="13.80" font-weight="normal" fill="#000" xml:space="preserve"><tspan x="-582.40" textLength="35.47" lengthAdjust="spacingAndGlyphs" stroke="#000" stroke-width="0.60" stroke-linejoin="round">So 03</tspan></text>
<text transform="translate(184.26 0) rotate(-90) skewX(0.03)" y="0" font-family="'Liberation Sans', sans-serif" font-size="13.80" font-weight="normal" fill="#000" xml:space="preserve"><tspan x="-589.20" textLength="42.28" lengthAdjust="spacingAndGlyphs" stroke="#000" stroke-width="0.60" stroke-linejoin="round">Mo 04</tspan></text>
<text transform="translate(214.28 0) rotate(-90) skewX(0.03)" y="0" font-family="'Liberation Sans', sans-serif" font-size="13.80" font-weight="normal" fill="#000" xml:space="preserve"><tspan x="-580.84" textLength="33.93" lengthAdjust="spacingAndGlyphs" stroke="#000" stroke-width="0.60" stroke-linejoin="round">Di 05</tspan></text>
<text transform="translate(244.30 0) rotate(-90) skewX(0.03)" y="0" font-family="'Liberation Sans', sans-serif" font-size="13.80" font-weight="normal" fill="#000" xml:space="preserve"><tspan x="-584.70" textLength="38.04" lengthAdjust="spacingAndGlyphs" stroke="#000" stroke-width="0.60" stroke-linejoin="round">Mi 06</tspan></text>
<text transform="translate(274.32 0) rotate(-90) skewX(0.03)" y="0" font-family="'Liberation Sans', sans-serif" font-size="13.80" font-weight="normal" fill="#000" xml:space="preserve"><tspan x="-585.34" textLength="38.69" lengthAdjust="spacingAndGlyphs" stroke="#000" stroke-width="0.60" stroke-linejoin="round">Do 07</tspan></text>
<text transform="translate(304.34 0) rotate(-90) skewX(0.03)" y="0" font-family="'Liberation Sans', sans-serif" font-size="13.80" font-weight="normal" fill="#000" xml:space="preserve"><tspan x="-579.25" textLength="32.32" lengthAdjust="spacingAndGlyphs" stroke="#000" stroke-width="0.60" stroke-linejoin="round">Fr 08</tspan></text>
<text transform="translate(334.36 0) rotate(-90) skewX(0.03)" y="0" font-family="'Liberation Sans', sans-serif" font-size="13.80" font-weight="normal" fill="#000" xml:space="preserve"><tspan x="-581.40" textLength="34.47" lengthAdjust="spacingAndGlyphs" stroke="#000" stroke-width="0.60" stroke-linejoin="round">Sa 09</tspan></text>
<text transform="translate(364.38 0) rotate(-90) skewX(0.03)" y="0" font-family="'Liberation Sans', sans-serif" font-size="13.80" font-weight="normal" fill="#000" xml:space="preserve"><tspan x="-582.40" textLength="35.47" lengthAdjust="spacingAndGlyphs" stroke="#000" stroke-width="0.60" stroke-linejoin="round">So 10</tspan></text>
<text transform="translate(394.40 0) rotate(-90) skewX(0.03)" y="0" font-family="'Liberation Sans', sans-serif" font-size="13.80" font-weight="normal" fill="#000" xml:space="preserve"><tspan x="-589.20" textLength="42.54" lengthAdjust="spacingAndGlyphs" stroke="#000" stroke-width="0.60" stroke-linejoin="round">Mo 11</tspan></text>
<text transform="translate(424.42 0) rotate(-90) skewX(0.03)" y="0" font-family="'Liberation Sans', sans-serif" font-size="13.80" font-weight="normal" fill="#000" xml:space="preserve"><tspan x="-580.84" textLength="34.19" lengthAdjust="spacingAndGlyphs" stroke="#000" stroke-width="0.60" stroke-linejoin="round">Di 12</tspan></text>
<text transform="translate(454.44 0) rotate(-90) skewX(0.03)" y="0" font-family="'Liberation Sans', sans-serif" font-size="13.80" font-weight="normal" fill="#000" xml:space="preserve"><tspan x="-584.70" textLength="38.04" lengthAdjust="spacingAndGlyphs" stroke="#000" stroke-width="0.60" stroke-linejoin="round">Mi 13</tspan></text>
<text transform="translate(484.46 0) rotate(-90) skewX(0.03)" y="0" font-family="'Liberation Sans', sans-serif" font-size="13.80" font-weight="normal" fill="#000" xml:space="preserve"><tspan x="-585.34" textLength="38.44" lengthAdjust="spacingAndGlyphs" stroke="#000" stroke-width="0.60" stroke-linejoin="round">Do 14</tspan></text>
<text transform="translate(514.48 0) rotate(-90) skewX(0.03)" y="0" font-family="'Liberation Sans', sans-serif" font-size="13.80" font-weight="normal" fill="#000" xml:space="preserve"><tspan x="-579.25" textLength="32.32" lengthAdjust="spacingAndGlyphs" stroke="#000" stroke-width="0.60" stroke-linejoin="round">Fr 15</tspan></text>
<text transform="translate(544.50 0) rotate(-90) skewX(0.03)" y="0" font-family="'Liberation Sans', sans-serif" font-size="13.80" font-weight="normal" fill="#000" xml:space="preserve"><tspan x="-581.40" textLength="34.47" lengthAdjust="spacingAndGlyphs" stroke="#000" stroke-width="0.60" stroke-linejoin="round">Sa 16</tspan></text>
<text transform="translate(574.52 0) rotate(-90) skewX(0.03)" y="0" font-family="'Liberation Sans', sans-serif" font-size="13.80" font-weight="normal" fill="#000" xml:space="preserve"><tspan x="-582.40" textLength="35.73" lengthAdjust="spacingAndGlyphs" stroke="#000" stroke-width="0.60" stroke-linejoin="round">So 17</tspan></text>
<text transform="translate(604.54 0) rotate(-90) skewX(0.03)" y="0" font-family="'Liberation Sans', sans-serif" font-size="13.80" font-weight="normal" fill="#000" xml:space="preserve"><tspan x="-589.20" textLength="42.54" lengthAdjust="spacingAndGlyphs" stroke="#000" stroke-width="0.60" stroke-linejoin="round">Mo 18</tspan></text>
<text transform="translate(634.56 0) rotate(-90) skewX(0.03)" y="0" font-family="'Liberation Sans', sans-serif" font-size="13.80" font-weight="normal" fill="#000" xml:space="preserve"><tspan x="-580.84" textLength="34.19" lengthAdjust="spacingAndGlyphs" stroke="#000" stroke-width="0.60" stroke-linejoin="round">Di 19</tspan></text>
<text transform="translate(664.58 0) rotate(-90) skewX(0.03)" y="0" font-family="'Liberation Sans', sans-serif" font-size="13.80" font-weight="normal" fill="#000" xml:space="preserve"><tspan x="-584.70" textLength="37.78" lengthAdjust="spacingAndGlyphs" stroke="#000" stroke-width="0.60" stroke-linejoin="round">Mi 20</tspan></text>
<text transform="translate(694.60 0) rotate(-90) skewX(0.03)" y="0" font-family="'Liberation Sans', sans-serif" font-size="13.80" font-weight="normal" fill="#000" xml:space="preserve"><tspan x="-585.34" textLength="38.69" lengthAdjust="spacingAndGlyphs" stroke="#000" stroke-width="0.60" stroke-linejoin="round">Do 21</tspan></text>
<text transform="translate(724.62 0) rotate(-90) skewX(0.03)" y="0" font-family="'Liberation Sans', sans-serif" font-size="13.80" font-weight="normal" fill="#000" xml:space="preserve"><tspan x="-579.25" textLength="32.58" lengthAdjust="spacingAndGlyphs" stroke="#000" stroke-width="0.60" stroke-linejoin="round">Fr 22</tspan></text>
<text transform="translate(754.64 0) rotate(-90) skewX(0.03)" y="0" font-family="'Liberation Sans', sans-serif" font-size="13.80" font-weight="normal" fill="#000" xml:space="preserve"><tspan x="-581.40" textLength="34.47" lengthAdjust="spacingAndGlyphs" stroke="#000" stroke-width="0.60" stroke-linejoin="round">Sa 23</tspan></text>
<text transform="translate(784.66 0) rotate(-90) skewX(0.03)" y="0" font-family="'Liberation Sans', sans-serif" font-size="13.80" font-weight="normal" fill="#000" xml:space="preserve"><tspan x="-582.40" textLength="35.48" lengthAdjust="spacingAndGlyphs" stroke="#000" stroke-width="0.60" stroke-linejoin="round">So 24</tspan></text>
<text transform="translate(814.68 0) rotate(-90) skewX(0.03)" y="0" font-family="'Liberation Sans', sans-serif" font-size="13.80" font-weight="normal" fill="#000" xml:space="preserve"><tspan x="-589.20" textLength="42.28" lengthAdjust="spacingAndGlyphs" stroke="#000" stroke-width="0.60" stroke-linejoin="round">Mo 25</tspan></text>
<text transform="translate(844.70 0) rotate(-90) skewX(0.03)" y="0" font-family="'Liberation Sans', sans-serif" font-size="13.80" font-weight="normal" fill="#000" xml:space="preserve"><tspan x="-580.84" textLength="33.93" lengthAdjust="spacingAndGlyphs" stroke="#000" stroke-width="0.60" stroke-linejoin="round">Di 26</tspan></text>
<text transform="translate(874.72 0) rotate(-90) skewX(0.03)" y="0" font-family="'Liberation Sans', sans-serif" font-size="13.80" font-weight="normal" fill="#000" xml:space="preserve"><tspan x="-584.70" textLength="38.04" lengthAdjust="spacingAndGlyphs" stroke="#000" stroke-width="0.60" stroke-linejoin="round">Mi 27</tspan></text>
<text transform="translate(904.74 0) rotate(-90) skewX(0.03)" y="0" font-family="'Liberation Sans', sans-serif" font-size="13.80" font-weight="normal" fill="#000" xml:space="preserve"><tspan x="-585.34" textLength="38.43" lengthAdjust="spacingAndGlyphs" stroke="#000" stroke-width="0.60" stroke-linejoin="round">Do 28</tspan></text>
<text transform="translate(934.76 0) rotate(-90) skewX(0.03)" y="0" font-family="'Liberation Sans', sans-serif" font-size="13.80" font-weight="normal" fill="#000" xml:space="preserve"><tspan x="-579.25" textLength="32.58" lengthAdjust="spacingAndGlyphs" stroke="#000" stroke-width="0.60" stroke-linejoin="round">Fr 29</tspan></text>
<text transform="translate(964.78 0) rotate(-90) skewX(0.03)" y="0" font-family="'Liberation Sans', sans-serif" font-size="13.80" font-weight="normal" fill="#000" xml:space="preserve"><tspan x="-581.40" textLength="34.47" lengthAdjust="spacingAndGlyphs" stroke="#000" stroke-width="0.60" stroke-linejoin="round">Sa 30</tspan></text>
<text transform="translate(994.80 0) rotate(-90) skewX(0.03)" y="0" font-family="'Liberation Sans', sans-serif" font-size="13.80" font-weight="normal" fill="#000" xml:space="preserve"><tspan x="-582.40" textLength="35.73" lengthAdjust="spacingAndGlyphs" stroke="#000" stroke-width="0.60" stroke-linejoin="round">So 31</tspan></text>
<text transform="skewX(0.03)" y="615.80" font-family="'Liberation Sans', sans-serif" font-size="14.80" font-weight="bold" fill="#000" xml:space="preserve"><tspan x="517.91" textLength="26.07" lengthAdjust="spacingAndGlyphs" stroke="#000" stroke-width="0.29" stroke-linejoin="round">Aug</tspan> <tspan x="548.06" textLength="31.53" lengthAdjust="spacingAndGlyphs" stroke="#000" stroke-width="0.25" stroke-linejoin="round">2025</tspan></text>
<text transform="skewX(0.03)" y="634.30" font-family="'Liberation Sans', sans-serif" font-size="12.90" font-weight="bold" fill="#000" xml:space="preserve"><tspan x="9.26" textLength="88.65" lengthAdjust="spacingAndGlyphs" stroke="#000" stroke-width="0.22" stroke-linejoin="round">2Datenquelle:</tspan> <tspan x="98.90" textLength="44.99" lengthAdjust="spacingAndGlyphs" stroke="#000" stroke-width="0.26" stroke-linejoin="round">Entso-e</tspan>  <tspan x="150.85" textLength="39.84" lengthAdjust="spacingAndGlyphs" stroke="#000" stroke-width="0.22" stroke-linejoin="round">Actual</tspan> <tspan x="193.05" textLength="66.75" lengthAdjust="spacingAndGlyphs" stroke="#000" stroke-width="0.22" stroke-linejoin="round">generation</tspan> <tspan x="262.55" textLength="19.78" lengthAdjust="spacingAndGlyphs" stroke="#000" stroke-width="0.23" stroke-linejoin="round">per</tspan> <tspan x="286.25" textLength="67.95" lengthAdjust="spacingAndGlyphs" stroke="#000" stroke-width="0.22" stroke-linejoin="round">production</tspan> <tspan x="358.11" textLength="27.03" lengthAdjust="spacingAndGlyphs" stroke="#000" stroke-width="0.22" stroke-linejoin="round">type</tspan></text>
<text transform="skewX(0.03)" y="634.30" font-family="'Liberation Sans', sans-serif" font-size="12.90" font-weight="bold" fill="#000" xml:space="preserve"><tspan x="457.46" textLength="65.29" lengthAdjust="spacingAndGlyphs" stroke="#000" stroke-width="0.25" stroke-linejoin="round">Auflösung:</tspan>  <tspan x="526.15" textLength="95.49" lengthAdjust="spacingAndGlyphs" stroke="#000" stroke-width="0.22" stroke-linejoin="round">Stundenwerte</tspan></text>
<text transform="skewX(0.03)" y="634.30" font-family="'Liberation Sans', sans-serif" font-size="12.90" font-weight="bold" fill="#000" xml:space="preserve"><tspan x="803.46" textLength="75.17" lengthAdjust="spacingAndGlyphs" stroke="#000" stroke-width="0.22" stroke-linejoin="round">Darstellung:</tspan>  <tspan x="883.96" textLength="23.94" lengthAdjust="spacingAndGlyphs" stroke="#000" stroke-width="0.26" stroke-linejoin="round">Rolf</tspan> <tspan x="911.56" textLength="52.49" lengthAdjust="spacingAndGlyphs" stroke="#000" stroke-width="0.26" stroke-linejoin="round">Schuster</tspan></text>
<g stroke="#000" stroke-width="1.35" fill="none" stroke-linejoin="round">
<path d="M113.3 137.0H141"/>
<path d="M193.8 431.3H200.4L225.8 417.4"/>
<path d="M226.2 457.0L243.8 462.6H249.8"/>
<path d="M605.9 450.7L644.7 444.1"/>
<path d="M685.7 422.8L695.7 438.0H701.3"/>
<path d="M699.5 422.6V432.2"/>
<path d="M765.4 495.7L769.1 512.6H774.9"/>
</g>
<text transform="skewX(0.03)" y="143.20" font-family="'Liberation Sans', sans-serif" font-size="16.30" font-weight="bold" fill="#000" xml:space="preserve"><tspan x="144.74" textLength="42.83" lengthAdjust="spacingAndGlyphs" stroke="#000" stroke-width="0.22" stroke-linejoin="round">119,2</tspan> <tspan x="191.74" textLength="9.21" lengthAdjust="spacingAndGlyphs" stroke="#000" stroke-width="0.22" stroke-linejoin="round">€</tspan></text>
<text transform="skewX(0.03)" y="436.70" font-family="'Liberation Sans', sans-serif" font-size="13.30" font-weight="normal" fill="#000" xml:space="preserve"><tspan x="159.74" textLength="28.42" lengthAdjust="spacingAndGlyphs" stroke="#000" stroke-width="0.45" stroke-linejoin="round">8,99</tspan></text>
<text transform="skewX(0.03)" y="467.30" font-family="'Liberation Sans', sans-serif" font-size="12.00" font-weight="normal" fill="#1a1a1a" xml:space="preserve"><tspan x="252.30" textLength="35.65" lengthAdjust="spacingAndGlyphs" stroke="#1a1a1a" stroke-width="0.12" stroke-linejoin="round">-0,728</tspan></text>
<text transform="skewX(0.03)" y="456.05" font-family="'Liberation Sans', sans-serif" font-size="13.50" font-weight="normal" fill="#000" xml:space="preserve"><tspan x="573.12" textLength="27.54" lengthAdjust="spacingAndGlyphs" stroke="#000" stroke-width="0.45" stroke-linejoin="round">2,41</tspan></text>
<rect x="671.3" y="399.3" width="56.0" height="23.3" fill="#fff"/>
<text transform="skewX(0.03)" y="416.60" font-family="'Liberation Sans', sans-serif" font-size="15.00" font-weight="bold" fill="#000" xml:space="preserve"><tspan x="675.20" textLength="19.88" lengthAdjust="spacingAndGlyphs" stroke="#000" stroke-width="0.26" stroke-linejoin="round">5,5</tspan> <tspan x="698.35" textLength="24.39" lengthAdjust="spacingAndGlyphs" stroke="#000" stroke-width="0.26" stroke-linejoin="round">GW</tspan></text>
<text transform="skewX(0.03)" y="443.90" font-family="'Liberation Sans', sans-serif" font-size="13.50" font-weight="normal" fill="#000" xml:space="preserve"><tspan x="704.83" textLength="37.15" lengthAdjust="spacingAndGlyphs" stroke="#000" stroke-width="0.45" stroke-linejoin="round">11,78</tspan></text>
<text transform="skewX(0.03)" y="517.90" font-family="'Liberation Sans', sans-serif" font-size="12.60" font-weight="normal" fill="#1a1a1a" xml:space="preserve"><tspan x="778.47" textLength="42.56" lengthAdjust="spacingAndGlyphs" stroke="#1a1a1a" stroke-width="0.12" stroke-linejoin="round">-10,158</tspan></text>
</svg>
</body></html>
